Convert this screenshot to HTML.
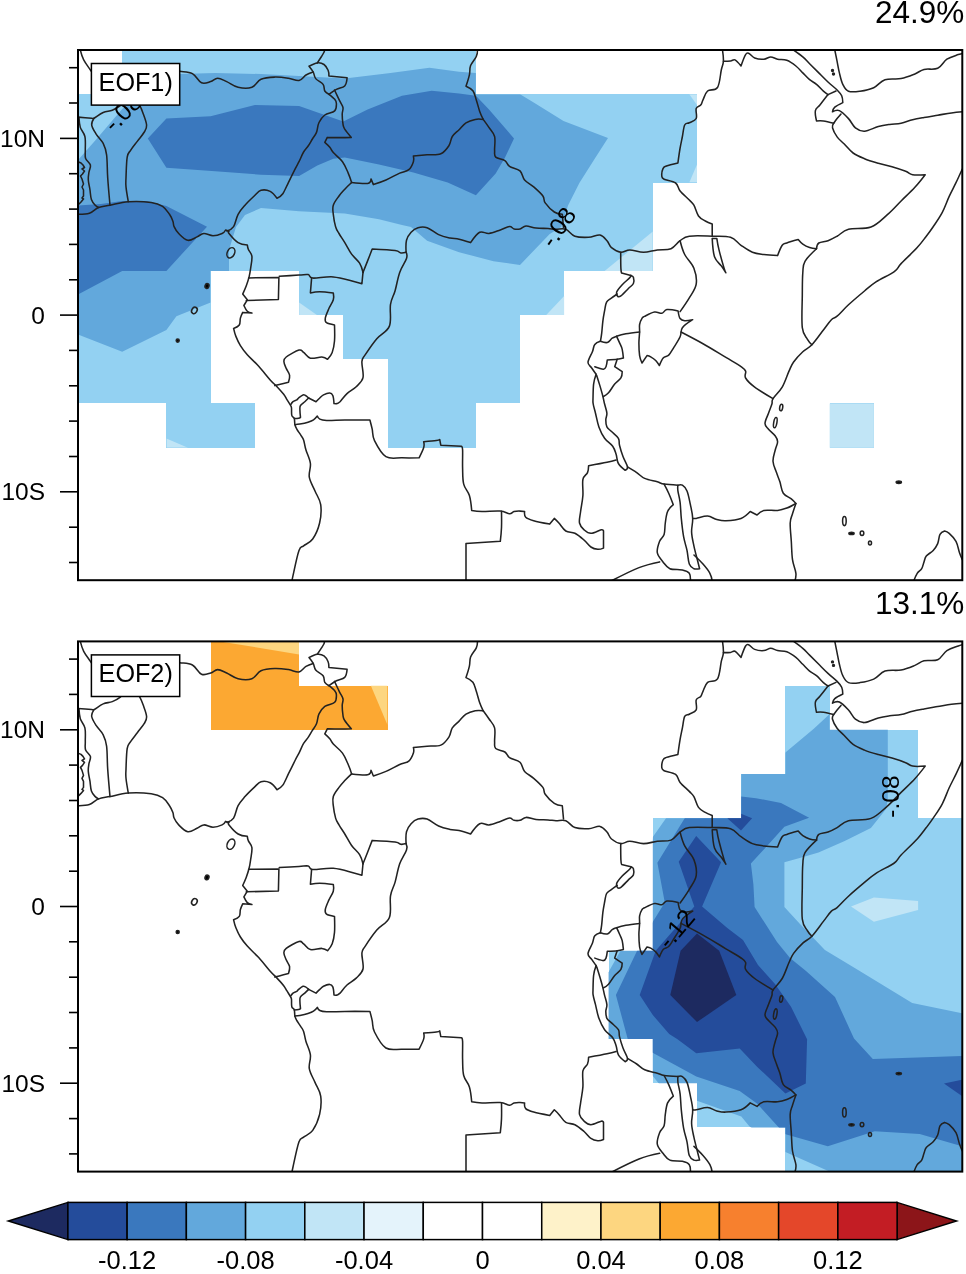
<!DOCTYPE html>
<html><head><meta charset="utf-8"><style>
html,body{margin:0;padding:0;background:#fff;}
svg{display:block;font-family:"Liberation Sans",sans-serif;will-change:transform;}
</style></head><body>
<svg width="966" height="1274" viewBox="0 0 966 1274">
<rect width="966" height="1274" fill="#fff"/>
<clipPath id="m1"><rect shape-rendering="crispEdges" x="122.22" y="50.00" width="353.72" height="44.18"/><rect shape-rendering="crispEdges" x="78.00" y="94.18" width="619.01" height="44.18"/><rect shape-rendering="crispEdges" x="78.00" y="138.37" width="619.01" height="44.18"/><rect shape-rendering="crispEdges" x="78.00" y="182.55" width="574.79" height="44.18"/><rect shape-rendering="crispEdges" x="78.00" y="226.73" width="574.79" height="44.18"/><rect shape-rendering="crispEdges" x="78.00" y="270.92" width="132.64" height="44.18"/><rect shape-rendering="crispEdges" x="299.07" y="270.92" width="265.29" height="44.18"/><rect shape-rendering="crispEdges" x="78.00" y="315.10" width="132.64" height="44.18"/><rect shape-rendering="crispEdges" x="343.29" y="315.10" width="176.86" height="44.18"/><rect shape-rendering="crispEdges" x="78.00" y="359.28" width="132.64" height="44.18"/><rect shape-rendering="crispEdges" x="387.50" y="359.28" width="132.64" height="44.18"/><rect shape-rendering="crispEdges" x="166.43" y="403.47" width="88.43" height="44.18"/><rect shape-rendering="crispEdges" x="387.50" y="403.47" width="88.43" height="44.18"/><rect shape-rendering="crispEdges" x="829.65" y="403.47" width="44.21" height="44.18"/></clipPath>
<clipPath id="f1"><rect x="78.0" y="50.0" width="884.3" height="530.2"/></clipPath>
<g fill="#93d1f2" shape-rendering="crispEdges"><rect x="122.22" y="50.00" width="353.72" height="44.18"/><rect x="78.00" y="94.18" width="619.01" height="44.18"/><rect x="78.00" y="138.37" width="619.01" height="44.18"/><rect x="78.00" y="182.55" width="574.79" height="44.18"/><rect x="78.00" y="226.73" width="574.79" height="44.18"/><rect x="78.00" y="270.92" width="132.64" height="44.18"/><rect x="299.07" y="270.92" width="265.29" height="44.18"/><rect x="78.00" y="315.10" width="132.64" height="44.18"/><rect x="343.29" y="315.10" width="176.86" height="44.18"/><rect x="78.00" y="359.28" width="132.64" height="44.18"/><rect x="387.50" y="359.28" width="132.64" height="44.18"/><rect x="166.43" y="403.47" width="88.43" height="44.18"/><rect x="387.50" y="403.47" width="88.43" height="44.18"/><rect x="829.65" y="403.47" width="44.21" height="44.18"/></g>
<g clip-path="url(#m1)">
<polygon fill="#c1e5f6" points="652.8,231.6 652.8,271.0 604.6,271.0"/>
<polygon fill="#c1e5f6" points="546.0,315.2 564.4,295.7 564.4,315.2"/>
<polygon fill="#c1e5f6" points="689.3,94.2 697.0,94.2 697.0,105.0"/>
<polygon fill="#c1e5f6" points="697.0,164.4 697.0,182.6 689.3,182.6"/>
<polygon fill="#c1e5f6" points="299.1,302.5 317.3,315.2 299.1,315.2"/>
<polygon fill="#c1e5f6" points="166.4,438.6 188.0,447.8 166.4,447.8"/>
<polygon fill="#c1e5f6" points="829.0,403.0 874.0,403.0 874.0,448.0 829.0,448.0"/>
<polygon fill="#62a8dc" points="78.0,160.0 97.0,138.4 122.2,109.0 140.0,94.2 166.4,79.0 179.8,74.0 215.3,72.9 261.0,74.0 299.0,76.0 344.8,78.6 390.5,72.9 429.4,67.8 459.0,71.7 475.9,72.9 475.9,94.2 520.0,94.2 533.7,102.6 563.5,121.0 608.0,138.0 595.5,157.5 579.5,182.7 568.0,205.6 561.2,227.0 549.7,233.9 520.0,265.0 493.5,261.3 459.1,252.2 427.1,240.7 411.0,227.0 402.0,225.0 379.0,219.3 344.8,213.6 299.0,211.3 261.0,208.0 245.0,215.0 236.0,227.0 229.0,250.0 229.0,271.0 210.6,271.0 210.6,302.5 176.4,316.2 166.4,330.0 122.2,351.7 78.0,334.5"/>
<polygon fill="#3a78be" points="147.8,138.4 166.4,118.6 210.6,116.3 254.9,105.0 299.1,106.0 321.9,114.0 343.3,121.5 367.6,109.5 402.0,95.8 431.7,90.7 459.0,93.5 475.9,95.8 489.0,109.5 514.0,138.4 505.0,157.5 495.7,173.5 475.9,195.3 447.7,182.5 413.4,172.4 379.0,164.4 344.8,157.5 333.3,158.7 317.3,165.5 299.1,176.0 261.0,174.7 215.3,171.3 166.4,167.8"/>
<polygon fill="#3a78be" points="78.0,205.5 100.9,204.0 122.2,201.0 146.6,201.0 166.4,206.0 207.0,226.7 166.4,270.9 122.2,270.9 78.0,294.5"/>
</g>
<g clip-path="url(#f1)" fill="none" stroke="#222" stroke-width="1.55" stroke-linejoin="round" stroke-linecap="round">
<path d="M80.3,50.0C80.3,50.0 81.9,56.4 83.7,59.9C85.5,63.4 88.4,67.0 90.6,70.2C92.8,73.4 96.0,78.0 96.0,78.0"/>
<path d="M170.0,70.0C170.0,70.0 175.9,70.7 179.8,71.3C183.7,71.9 188.6,71.6 192.4,73.6C196.2,75.6 198.3,81.4 201.5,82.8C204.7,84.2 207.9,82.4 210.7,81.6C213.5,80.8 214.8,78.2 217.6,78.2C220.4,78.2 223.1,80.0 226.7,81.6C230.3,83.2 233.7,86.3 238.1,87.3C242.5,88.3 247.9,88.7 251.9,87.3C255.9,85.9 257.0,81.1 261.0,79.3C265.0,77.5 270.0,77.3 274.8,77.1C279.6,76.9 284.3,77.6 288.5,78.2C292.7,78.8 295.9,81.1 299.0,80.5C302.1,79.9 303.5,76.5 306.0,75.0C308.5,73.5 313.2,72.0 313.2,72.0"/>
<path d="M317.3,62.9C317.3,62.9 320.3,58.4 321.5,56.5C322.7,54.6 323.5,53.4 324.0,52.3C324.5,51.2 324.4,50.0 324.4,50.0"/>
<path d="M78.0,117.1C78.0,117.1 88.9,118.0 91.7,118.2C94.5,118.4 92.0,119.2 94.0,118.2C96.0,117.2 100.0,113.9 103.2,112.5C106.4,111.1 109.3,111.4 112.3,110.2C115.3,109.0 118.1,107.5 120.3,105.7C122.5,103.9 125.0,100.0 125.0,100.0"/>
<path d="M135.0,100.0C135.0,100.0 138.4,103.3 139.8,105.7C141.2,108.1 142.0,110.3 143.2,113.7C144.4,117.1 146.4,121.9 146.6,125.1C146.8,128.3 145.9,129.2 144.3,132.0C142.7,134.8 139.9,137.9 137.5,141.1C135.1,144.3 132.4,147.5 130.6,150.3C128.8,153.1 128.0,152.3 127.2,157.1C126.4,161.9 126.2,172.5 126.0,177.7C125.8,182.9 125.6,182.7 126.0,186.9C126.4,191.1 128.3,201.7 128.3,201.7"/>
<path d="M94.0,118.2C94.0,118.2 91.3,122.3 91.7,125.1C92.1,127.9 94.3,131.1 96.3,134.3C98.3,137.5 101.4,139.8 103.2,143.4C105.0,147.0 105.8,148.8 106.6,154.8C107.4,160.8 107.1,168.9 107.7,177.7C108.3,186.5 110.0,205.2 110.0,205.2"/>
<path d="M79.0,117.5C79.0,117.5 79.3,124.1 80.3,127.4C81.3,130.7 84.0,132.5 84.9,136.5C85.8,140.5 85.2,146.2 85.3,150.0C85.4,153.8 84.7,155.9 85.6,158.5C86.5,161.1 89.8,162.6 90.4,165.0C91.0,167.4 89.4,169.4 89.0,172.0C88.6,174.6 88.1,176.8 88.3,180.0C88.5,183.2 89.5,186.6 90.0,190.0C90.5,193.4 90.5,196.9 91.4,199.5C92.3,202.1 93.7,203.6 95.0,205.0C96.3,206.4 98.6,207.5 98.6,207.5"/>
<path d="M78.0,214.3C78.0,214.3 85.8,214.4 89.4,213.2C93.0,212.0 95.0,208.9 98.6,207.5C102.2,206.1 104.8,206.2 110.0,205.2C115.2,204.2 121.1,202.2 128.3,201.7C135.5,201.2 145.2,201.6 151.2,202.4C157.2,203.2 159.4,204.2 162.6,206.3C165.8,208.4 167.7,211.7 169.5,214.3C171.3,216.9 172.1,219.0 172.9,221.2C173.7,223.4 173.1,224.4 174.1,226.6C175.1,228.8 176.3,231.1 178.7,233.5C181.1,235.9 184.6,239.7 187.8,240.3C191.0,240.9 194.2,238.1 197.0,236.9C199.8,235.7 201.0,233.7 203.8,233.5C206.6,233.3 209.8,235.8 213.0,235.8C216.2,235.8 219.9,234.5 222.1,233.5C224.3,232.5 225.6,230.0 225.6,230.0C225.6,230.0 229.0,231.2 229.0,231.2C229.0,231.2 227.4,231.5 229.0,233.5C230.6,235.5 234.9,240.6 238.1,242.6C241.3,244.6 247.3,244.9 247.3,244.9C247.3,244.9 247.6,247.5 248.4,249.5C249.2,251.5 251.5,253.1 251.9,256.3C252.3,259.5 251.2,264.2 250.7,267.8C250.2,271.4 249.9,273.7 249.1,276.9C248.3,280.1 247.3,283.1 246.2,286.1C245.1,289.1 242.7,294.1 242.7,294.1C242.7,294.1 247.3,299.8 247.3,299.8C247.3,299.8 243.9,305.5 243.9,305.5C243.9,305.5 245.9,309.9 247.3,311.2C248.7,312.5 251.9,313.1 251.9,313.1C251.9,313.1 242.7,312.4 242.7,312.4C242.7,312.4 241.0,315.9 240.4,318.1C239.8,320.3 240.5,323.2 239.3,325.0C238.1,326.8 233.6,328.4 233.6,328.4C233.6,328.4 234.7,333.4 235.9,336.4C237.1,339.4 238.4,342.4 240.4,345.6C242.4,348.8 244.1,351.1 247.3,354.7C250.5,358.3 254.7,361.8 258.7,366.2C262.7,370.6 267.0,376.3 270.2,379.9C273.4,383.5 274.6,384.2 277.0,386.7C279.4,389.2 282.0,392.1 283.7,394.3C285.4,396.5 285.6,397.3 286.8,399.3C288.0,401.3 289.8,404.0 290.6,405.5C291.4,407.0 291.3,406.3 291.5,408.0C291.7,409.7 291.3,413.6 291.8,415.4C292.3,417.2 293.8,416.9 294.3,418.5C294.8,420.1 294.5,422.8 294.9,424.7C295.3,426.6 295.8,427.4 296.8,429.1C297.8,430.9 299.3,432.8 300.5,434.7C301.7,436.6 302.7,437.4 303.6,440.0C304.5,442.6 304.7,445.7 305.9,449.8C307.1,453.9 309.8,458.7 310.4,463.5C311.0,468.3 308.5,472.4 309.3,477.2C310.1,482.0 313.0,486.2 315.0,491.0C317.0,495.8 319.9,499.1 320.7,504.7C321.5,510.3 321.0,517.0 319.6,523.0C318.2,529.0 315.5,535.0 312.7,539.0C309.9,543.0 306.0,543.8 303.6,545.8C301.2,547.8 300.9,545.2 299.0,550.4C297.1,555.6 294.2,570.2 293.0,575.6C291.8,581.0 292.0,581.0 292.0,581.0"/>
<path d="M309.0,66.2C309.0,66.2 314.7,63.2 317.3,62.9C319.9,62.6 322.1,63.2 324.0,64.5C325.9,65.8 327.2,68.3 328.1,70.3C329.0,72.3 328.9,76.1 328.9,76.1C328.9,76.1 347.1,77.8 347.1,77.8C347.1,77.8 346.6,84.0 344.7,86.0C342.8,88.0 339.2,87.9 336.4,89.4C333.6,90.9 328.9,94.3 328.9,94.3C328.9,94.3 325.8,92.7 324.8,91.0C323.8,89.3 324.7,86.6 323.1,84.4C321.5,82.2 317.4,80.8 315.7,78.6C314.0,76.4 314.4,74.2 313.2,72.0C312.0,69.8 309.0,66.2 309.0,66.2"/>
<path d="M328.9,94.3C328.9,94.3 333.4,97.7 334.7,99.3C336.0,100.9 336.4,101.4 336.4,103.4C336.4,105.4 336.7,108.9 334.7,110.9C332.7,112.9 327.5,113.0 324.8,115.0C322.1,117.0 320.5,119.5 319.0,122.5C317.5,125.5 317.7,129.5 316.5,132.4C315.3,135.3 313.8,136.7 312.4,139.0C311.0,141.3 310.0,143.2 308.5,145.5C307.0,147.8 305.3,149.2 303.6,152.0C301.9,154.8 300.5,158.8 299.0,161.7C297.5,164.6 297.1,165.0 295.3,168.6C293.5,172.2 290.7,177.9 288.5,182.3C286.3,186.7 284.8,190.9 282.8,193.7C280.8,196.5 277.0,198.3 277.0,198.3C277.0,198.3 273.0,192.8 270.2,191.4C267.4,190.0 263.8,189.5 261.0,190.3C258.2,191.1 257.0,193.4 254.2,196.0C251.4,198.6 247.8,202.0 245.0,205.2C242.2,208.4 240.1,210.5 238.1,214.3C236.1,218.1 235.5,223.8 233.6,226.7C231.7,229.6 227.0,231.0 227.0,231.0"/>
<path d="M334.5,90.0C334.5,90.0 338.2,97.8 339.7,100.9C341.2,104.0 342.6,105.3 343.0,107.6C343.4,109.9 342.2,111.3 342.2,114.2C342.2,117.1 342.6,121.5 343.0,124.1C343.4,126.7 343.2,126.8 344.7,129.1C346.2,131.4 351.3,137.4 351.3,137.4C351.3,137.4 344.2,137.6 340.0,137.6C335.8,137.6 327.3,137.4 327.3,137.4C327.3,137.4 324.8,142.4 324.8,142.4C324.8,142.4 328.3,145.5 329.8,147.3C331.3,149.1 331.1,150.1 333.3,152.6C335.5,155.1 339.9,158.1 342.5,161.7C345.1,165.3 346.6,169.5 348.2,173.1C349.8,176.7 351.6,182.5 351.6,182.5"/>
<path d="M351.6,182.5C351.6,182.5 347.0,186.8 344.8,189.2C342.6,191.6 341.0,193.2 339.0,196.0C337.0,198.8 334.3,202.0 333.3,205.2C332.3,208.4 332.9,210.5 333.3,214.3C333.7,218.1 334.6,223.3 335.6,226.7C336.6,230.1 337.4,230.7 339.0,233.5C340.6,236.3 342.6,239.0 344.8,242.6C347.0,246.2 349.0,250.5 351.6,254.1C354.2,257.7 357.6,260.0 359.6,263.2C361.6,266.4 363.0,272.4 363.0,272.4"/>
<path d="M351.6,182.5C351.6,182.5 364.2,184.0 367.6,183.4C371.0,182.8 371.0,178.9 371.0,178.9C371.0,178.9 373.4,184.6 373.4,184.6C373.4,184.6 381.4,182.0 386.0,180.0C390.6,178.0 395.7,174.9 399.7,173.1C403.7,171.3 406.4,171.7 408.8,169.7C411.2,167.7 412.6,164.1 413.4,161.7C414.2,159.3 413.4,156.0 413.4,156.0C413.4,156.0 422.3,155.2 427.1,154.8C431.9,154.4 437.0,155.3 440.8,153.7C444.6,152.1 446.9,148.7 448.9,145.7C450.9,142.7 450.5,139.3 452.3,136.5C454.1,133.7 456.7,132.1 459.1,129.7C461.5,127.3 463.2,124.6 466.0,122.8C468.8,121.0 472.2,120.0 475.2,119.4C478.2,118.8 483.2,119.4 483.2,119.4"/>
<path d="M477.5,50.0C477.5,50.0 477.5,53.8 476.3,56.5C475.1,59.2 471.8,62.4 470.6,65.6C469.4,68.8 470.2,71.2 469.4,74.8C468.6,78.4 466.0,86.2 466.0,86.2C466.0,86.2 471.1,88.4 472.9,90.8C474.7,93.2 475.1,96.3 476.3,99.9C477.5,103.5 478.5,108.0 479.7,111.4C480.9,114.8 483.2,119.4 483.2,119.4"/>
<path d="M483.2,119.4C483.2,119.4 486.9,124.4 488.9,127.4C490.9,130.4 493.6,132.5 494.6,136.5C495.6,140.5 494.4,146.7 494.6,150.3C494.8,153.9 493.9,155.3 495.7,157.1C497.5,158.9 502.5,159.0 504.9,160.6C507.3,162.2 506.9,164.5 509.5,166.3C512.1,168.1 517.4,168.5 520.0,170.9C522.6,173.3 522.2,177.2 524.6,180.0C527.0,182.8 530.5,184.1 533.7,186.9C536.9,189.7 540.9,193.2 542.9,196.0C544.9,198.8 543.2,200.1 545.2,202.9C547.2,205.7 551.3,210.0 554.3,212.0C557.3,214.0 562.3,214.3 562.3,214.3C562.3,214.3 563.5,227.5 563.5,227.5"/>
<path d="M406.1,252.2C406.1,252.2 405.6,243.8 406.5,240.3C407.4,236.8 409.1,234.5 411.1,232.3C413.1,230.1 415.2,228.5 418.0,227.7C420.8,226.9 423.5,226.5 427.1,227.7C430.7,228.9 434.6,232.8 438.6,234.6C442.6,236.4 446.4,237.2 450.0,238.0C453.6,238.8 455.5,238.4 459.1,239.2C462.7,240.0 470.6,242.6 470.6,242.6C470.6,242.6 476.5,233.9 479.7,232.3C482.9,230.7 485.3,233.9 488.9,233.5C492.5,233.1 496.7,231.2 500.3,230.0C503.9,228.8 507.1,226.8 509.5,226.6C511.9,226.4 512.2,228.5 514.0,228.9C515.8,229.3 517.9,229.4 520.0,228.9C522.1,228.4 523.2,226.2 526.0,226.0C528.8,225.8 532.1,227.6 536.0,228.0C539.9,228.4 544.5,228.3 548.0,228.5C551.5,228.7 552.9,229.2 556.0,229.3C559.1,229.4 562.5,228.1 565.8,229.3C569.1,230.5 570.9,234.8 574.9,236.2C578.9,237.6 584.2,237.5 588.6,237.3C593.0,237.1 596.8,234.4 600.0,235.0C603.2,235.6 605.0,238.5 607.0,240.7C609.0,242.9 609.1,245.6 611.5,247.6C613.9,249.6 617.5,251.8 620.7,252.2C623.9,252.6 625.8,249.9 629.8,249.9C633.8,249.9 638.7,252.2 643.5,252.2C648.3,252.2 652.5,250.5 657.3,249.9C662.1,249.3 667.0,250.3 671.0,248.7C675.0,247.1 676.9,242.9 680.1,240.7C683.3,238.5 683.7,237.0 689.3,236.2C694.9,235.4 705.0,236.0 712.2,236.2C719.4,236.4 725.5,235.7 730.5,237.3C735.5,238.9 737.2,242.7 741.0,245.3C744.8,247.9 748.4,250.6 752.4,252.2C756.4,253.8 759.5,253.9 763.9,254.5C768.3,255.1 777.6,255.6 777.6,255.6C777.6,255.6 780.6,247.5 782.2,245.3C783.8,243.1 784.0,244.0 786.8,243.0C789.6,242.0 798.2,239.6 798.2,239.6C798.2,239.6 800.8,242.8 802.8,244.2C804.8,245.6 807.2,246.8 809.6,247.6C812.0,248.4 816.5,248.7 816.5,248.7"/>
<path d="M363.0,272.4C363.0,272.4 366.0,265.0 367.6,260.9C369.2,256.8 372.2,249.0 372.2,249.0C372.2,249.0 390.1,249.9 395.1,250.6C400.1,251.3 398.9,252.6 400.8,252.9C402.7,253.2 406.1,252.2 406.1,252.2"/>
<path d="M406.1,252.2C406.1,252.2 407.6,255.1 406.5,258.6C405.4,262.1 401.7,266.8 399.7,272.4C397.7,278.0 396.7,285.1 395.1,290.7C393.5,296.3 391.5,298.2 390.5,304.4C389.5,310.6 391.8,320.1 389.4,326.1C387.0,332.1 381.0,333.7 376.8,338.7C372.6,343.7 367.9,350.7 365.3,354.7C362.7,358.7 362.3,357.6 361.9,361.6C361.5,365.6 364.0,373.2 363.0,377.6C362.0,382.0 359.0,383.9 356.2,386.7C353.4,389.5 349.8,391.0 347.0,393.6C344.2,396.2 341.7,399.9 340.0,401.7C338.3,403.4 338.2,403.3 337.1,403.6C336.1,403.9 334.0,403.6 334.0,403.6C334.0,403.6 333.6,397.4 332.8,395.5C332.0,393.6 331.3,393.1 329.7,393.0C328.1,392.9 325.2,394.0 323.5,394.9C321.8,395.8 321.1,396.8 319.8,398.0C318.5,399.2 316.0,401.7 316.0,401.7C316.0,401.7 308.6,398.0 308.6,398.0"/>
<path d="M363.0,272.4C363.0,272.4 361.9,283.8 361.9,283.8C361.9,283.8 358.9,282.7 353.9,281.5C348.9,280.3 340.5,277.5 333.3,276.9C326.1,276.3 317.1,278.5 312.7,278.1C308.3,277.7 310.6,275.1 308.2,274.6C305.8,274.1 304.1,274.8 299.0,275.1C293.9,275.4 279.3,276.2 279.3,276.2"/>
<path d="M248.6,277.9C248.6,277.9 278.9,277.5 278.9,277.5C278.9,277.5 278.4,299.6 278.4,299.6C278.4,299.6 246.3,300.4 246.3,300.4"/>
<path d="M311.6,278.1C311.6,278.1 310.4,292.9 310.4,292.9C310.4,292.9 315.6,291.8 319.6,291.8C323.6,291.8 333.3,293.0 333.3,293.0C333.3,293.0 334.1,297.0 333.3,299.8C332.5,302.6 330.1,305.8 328.7,309.0C327.3,312.2 325.7,315.7 325.3,318.1C324.9,320.5 324.9,321.5 326.5,322.7C328.1,323.9 334.5,325.0 334.5,325.0C334.5,325.0 334.9,336.2 334.5,341.0C334.1,345.8 333.4,349.2 332.2,352.4C331.0,355.6 327.6,359.3 327.6,359.3C327.6,359.3 324.9,357.2 321.9,357.0C318.9,356.8 313.6,359.0 310.4,358.2C307.2,357.4 305.6,353.8 303.6,352.4C301.6,351.0 302.0,349.3 299.0,350.1C296.0,350.9 288.8,355.0 286.2,357.0C283.6,359.0 283.9,359.6 283.9,361.6C283.9,363.6 285.2,366.0 286.2,368.4C287.2,370.8 289.2,372.9 289.6,375.3C290.0,377.7 288.5,382.2 288.5,382.2C288.5,382.2 281.7,383.9 279.3,384.5C276.9,385.1 274.8,385.6 274.8,385.6"/>
<path d="M290.6,404.8C290.6,404.8 291.9,402.6 293.0,401.7C294.1,400.8 295.8,400.5 296.8,399.9C297.8,399.3 297.5,398.9 298.6,398.0C299.7,397.1 301.8,395.3 303.0,394.9C304.2,394.5 304.5,395.0 305.5,395.5C306.5,396.0 308.6,398.0 308.6,398.0"/>
<path d="M308.6,398.0C308.6,398.0 306.2,400.4 304.8,401.7C303.4,403.0 301.4,404.1 300.5,405.5C299.6,406.9 299.9,407.7 299.9,409.8C299.9,411.9 300.5,417.3 300.5,417.3C300.5,417.3 299.7,418.0 298.6,418.2C297.5,418.4 294.3,418.5 294.3,418.5"/>
<path d="M294.9,424.7C294.9,424.7 297.6,424.5 299.9,424.1C302.2,423.7 305.6,423.0 308.0,422.2C310.4,421.4 311.9,420.9 313.5,419.8C315.1,418.7 317.3,416.0 317.3,416.0C317.3,416.0 318.2,418.3 319.8,419.1C321.4,419.9 322.2,420.2 326.6,420.4C331.0,420.6 337.2,420.1 344.8,420.0C352.4,419.9 369.9,420.0 369.9,420.0C369.9,420.0 371.4,425.6 372.2,429.2C373.0,432.8 372.1,435.8 374.5,440.6C376.9,445.4 381.1,453.6 385.9,456.6C390.7,459.6 396.2,457.6 402.0,457.8C407.8,458.0 419.1,457.8 419.1,457.8C419.1,457.8 422.9,450.3 423.7,447.5C424.5,444.7 423.7,441.7 423.7,441.7C423.7,441.7 433.5,441.0 436.3,440.6C439.1,440.2 439.7,439.5 439.7,439.5C439.7,439.5 440.8,445.2 440.8,445.2C440.8,445.2 461.4,446.3 461.4,446.3C461.4,446.3 462.4,446.0 462.6,449.8C462.8,453.6 462.4,462.1 462.6,468.1C462.8,474.1 462.5,479.3 463.7,484.1C464.9,488.9 468.0,490.9 469.4,495.5C470.8,500.1 471.7,510.4 471.7,510.4C471.7,510.4 477.0,511.4 482.0,511.5C487.0,511.6 495.5,510.7 500.3,511.1C505.1,511.5 507.1,513.7 509.5,513.8C511.9,513.9 512.2,512.0 514.0,511.5C515.8,511.0 518.1,511.1 520.0,511.1C521.9,511.1 524.6,511.5 524.6,511.5C524.6,511.5 524.1,515.6 525.7,517.2C527.3,518.8 529.5,519.5 533.7,520.7C537.9,521.9 549.7,524.1 549.7,524.1C549.7,524.1 554.3,518.4 554.3,518.4C554.3,518.4 556.9,520.8 558.9,523.0C560.9,525.2 563.0,529.2 565.8,531.0C568.6,532.8 571.7,531.7 574.9,533.3C578.1,534.9 581.3,537.7 584.1,540.1C586.9,542.5 588.5,545.4 590.9,547.0C593.3,548.6 595.6,549.1 597.8,549.3C600.0,549.5 603.5,548.1 603.5,548.1C603.5,548.1 603.5,531.0 603.5,531.0C603.5,531.0 603.4,529.4 601.2,529.8C599.0,530.2 593.9,533.3 590.9,533.3C587.9,533.3 586.1,531.6 584.1,529.8C582.1,528.0 580.1,526.2 579.5,523.0C578.9,519.8 580.0,516.3 580.6,511.5C581.2,506.7 582.5,501.1 582.9,495.5C583.3,489.9 582.1,483.5 582.9,479.5C583.7,475.5 586.5,475.0 587.5,472.6C588.5,470.2 588.6,465.8 588.6,465.8C588.6,465.8 602.2,463.3 607.0,462.3C611.8,461.3 616.1,460.0 616.1,460.0"/>
<path d="M501.5,511.3C501.5,511.3 501.7,522.2 501.5,527.5C501.3,532.8 500.3,541.3 500.3,541.3C500.3,541.3 466.0,543.6 466.0,543.6C466.0,543.6 466.0,581.0 466.0,581.0"/>
<path d="M722.5,50.0C722.5,50.0 723.6,57.7 723.4,61.2C723.2,64.7 722.3,65.4 721.3,70.0C720.3,74.6 719.9,83.8 717.5,87.5C715.1,91.2 710.1,88.8 707.6,91.0C705.1,93.2 704.2,97.5 703.0,99.9C701.8,102.4 701.9,103.5 700.7,105.0C699.5,106.5 697.0,106.1 696.2,108.5C695.4,110.9 697.4,116.0 696.2,118.5C695.0,121.0 691.3,121.7 689.3,122.8C687.3,123.9 685.9,122.6 684.7,125.0C683.5,127.4 683.2,132.5 682.4,136.5C681.6,140.5 680.9,143.4 680.1,148.0C679.3,152.6 677.9,163.0 677.9,163.0C677.9,163.0 669.0,165.0 666.4,166.0C663.8,167.0 663.8,166.8 663.0,168.6C662.2,170.3 661.6,174.1 661.8,176.0C662.0,177.9 661.7,178.1 664.1,179.3C666.5,180.5 672.8,181.0 675.6,183.0C678.4,185.0 677.7,188.0 680.1,191.0C682.5,194.0 686.9,197.5 689.3,200.0C691.7,202.5 692.3,202.4 693.9,205.2C695.5,208.0 696.5,213.2 698.5,216.0C700.5,218.8 702.9,219.6 705.3,221.0C707.7,222.4 712.2,224.0 712.2,224.0C712.2,224.0 712.2,236.2 712.2,236.2"/>
<path d="M723.4,61.2C723.4,61.2 728.5,61.2 730.5,61.0C732.5,60.8 733.2,59.0 735.0,59.9C736.8,60.8 741.0,66.0 741.0,66.0C741.0,66.0 744.2,56.8 745.6,54.6C747.0,52.4 747.4,52.9 749.0,53.5C750.6,54.1 752.1,57.0 754.7,58.0C757.3,59.0 761.1,59.4 763.9,59.2C766.7,59.0 768.3,56.9 770.7,56.9C773.1,56.9 774.8,58.6 777.6,59.2C780.4,59.8 783.6,59.1 786.8,60.3C790.0,61.5 793.1,63.8 795.9,66.0C798.7,68.2 800.4,70.5 802.8,72.9C805.2,75.3 807.2,77.7 809.6,79.7C812.0,81.7 814.1,82.3 816.5,84.3C818.9,86.3 821.4,89.4 823.4,91.2C825.4,93.0 828.0,94.6 828.0,94.6"/>
<path d="M793.6,50.0C793.6,50.0 800.0,54.5 802.8,56.9C805.6,59.3 806.8,60.9 809.6,63.7C812.4,66.5 815.6,69.7 818.8,72.9C822.0,76.1 824.8,79.0 828.0,82.0C831.2,85.0 834.7,87.6 837.1,90.0C839.5,92.4 840.7,93.6 841.7,95.8C842.7,98.0 842.8,102.6 842.8,102.6C842.8,102.6 836.6,105.6 834.8,107.2C833.0,108.8 832.5,111.8 832.5,111.8C832.5,111.8 836.6,109.4 839.4,110.6C842.2,111.8 845.7,115.6 848.5,118.6C851.3,121.6 852.6,125.6 855.4,127.8C858.2,130.0 860.5,131.4 864.5,131.2C868.5,131.0 873.9,127.8 878.3,126.6C882.7,125.4 885.7,125.0 889.7,124.4C893.7,123.8 897.1,124.0 901.1,123.2C905.1,122.4 908.6,120.8 912.6,119.8C916.6,118.8 919.6,118.3 924.0,117.5C928.4,116.7 932.9,116.0 937.7,115.2C942.5,114.4 947.2,113.5 951.5,112.9C955.8,112.3 962.3,111.8 962.3,111.8"/>
<path d="M828.0,94.6 L836.0,91.0"/>
<path d="M828.0,94.6C828.0,94.6 822.1,102.1 819.9,104.9C817.7,107.7 816.0,107.8 815.4,110.6C814.8,113.4 816.5,120.9 816.5,120.9C816.5,120.9 820.4,120.5 823.4,120.9C826.4,121.3 833.7,123.2 833.7,123.2C833.7,123.2 835.8,120.2 837.1,118.6C838.4,117.0 841.0,114.0 841.0,114.0"/>
<path d="M833.7,123.2C833.7,123.2 831.9,125.4 832.5,127.8C833.1,130.2 835.1,134.1 837.1,136.9C839.1,139.7 841.2,141.0 844.0,143.8C846.8,146.6 849.5,150.4 853.1,153.0C856.7,155.6 860.1,156.9 864.5,158.7C868.9,160.5 873.5,161.8 878.3,163.2C883.1,164.6 887.2,165.3 892.0,166.7C896.8,168.1 902.1,169.9 905.7,171.3C909.3,172.7 909.2,174.1 912.6,174.7C916.0,175.3 925.2,174.7 925.2,174.7C925.2,174.7 919.1,182.7 914.9,187.3C910.7,191.9 905.9,196.2 901.1,201.0C896.3,205.8 892.7,210.1 887.4,214.7C882.1,219.2 877.8,224.4 871.0,227.0C864.2,229.6 854.4,227.7 848.5,229.3C842.6,230.9 840.7,234.2 837.1,236.2C833.5,238.2 831.2,239.5 828.0,240.7C824.8,241.9 820.8,241.6 818.8,243.0C816.8,244.4 816.5,248.7 816.5,248.7"/>
<path d="M834.8,50.0C834.8,50.0 836.3,57.4 837.1,61.4C837.9,65.4 838.4,68.9 839.4,72.9C840.4,76.9 841.2,81.1 842.8,84.3C844.4,87.5 845.5,90.0 848.5,91.2C851.5,92.4 855.6,91.8 860.0,91.2C864.4,90.6 869.3,89.7 873.7,87.7C878.1,85.7 880.2,81.3 885.0,79.7C889.8,78.1 895.9,79.6 901.1,78.6C906.3,77.6 910.9,75.6 914.9,74.0C918.9,72.4 920.0,70.4 924.0,69.4C928.0,68.4 933.7,70.1 937.7,68.3C941.7,66.5 943.3,61.6 946.9,59.2C950.5,56.8 955.6,55.6 958.3,54.6C961.0,53.6 962.3,53.4 962.3,53.4"/>
<path d="M962.3,169.0C962.3,169.0 958.3,177.9 956.0,182.7C953.7,187.5 951.6,191.2 949.2,196.4C946.8,201.6 945.1,207.0 942.3,212.4C939.5,217.8 935.8,222.8 933.0,227.0C930.2,231.2 929.1,232.6 926.3,236.2C923.5,239.8 921.6,242.8 917.2,247.6C912.8,252.4 905.1,259.4 901.1,263.6C897.1,267.8 898.7,268.4 894.3,271.6C889.9,274.8 881.2,278.5 876.0,281.9C870.8,285.3 869.3,287.0 864.5,291.0C859.7,295.0 853.3,300.4 848.5,304.8C843.7,309.2 840.1,313.6 837.1,316.2C834.1,318.8 833.8,317.3 831.4,319.7C829.0,322.1 826.8,325.6 823.4,330.0C820.0,334.4 815.5,341.0 811.9,344.8C808.3,348.6 806.0,348.7 802.8,351.7C799.6,354.7 796.0,358.6 793.6,362.0C791.2,365.4 791.0,366.7 789.0,371.1C787.0,375.5 785.0,382.3 782.2,387.1C779.4,391.9 774.8,395.6 773.0,398.6C771.2,401.6 772.7,401.4 771.9,404.0C771.1,406.6 769.7,409.8 768.5,413.2C767.3,416.6 765.0,420.6 765.0,423.4C765.0,426.2 766.7,427.0 768.5,429.2C770.3,431.4 773.7,433.8 775.3,436.0C776.9,438.2 777.6,439.3 777.6,441.7C777.6,444.1 776.1,446.4 775.3,449.8C774.5,453.2 772.8,457.2 773.0,461.2C773.2,465.2 775.3,469.0 776.5,472.6C777.7,476.2 778.7,478.2 779.9,481.8C781.1,485.4 781.3,490.2 783.3,493.2C785.3,496.2 789.1,497.1 791.3,498.9C793.5,500.7 795.9,503.5 795.9,503.5C795.9,503.5 793.5,510.4 792.5,513.8C791.5,517.2 790.4,518.2 790.2,523.0C790.0,527.8 790.9,534.9 791.3,541.3C791.7,547.7 791.7,554.0 792.5,559.6C793.3,565.2 795.5,569.6 795.9,573.3C796.3,577.0 794.8,581.0 794.8,581.0"/>
<path d="M816.5,248.7C816.5,248.7 807.4,257.1 805.0,261.3C802.6,265.5 803.3,266.8 802.8,272.8C802.3,278.8 802.4,286.0 802.3,295.6C802.2,305.2 801.4,320.1 802.3,327.7C803.2,335.3 805.6,336.1 807.3,339.1C809.0,342.1 811.9,344.8 811.9,344.8"/>
<path d="M681.0,332.0C681.0,332.0 695.1,339.3 703.0,343.7C710.9,348.1 719.2,353.4 725.9,357.4C732.5,361.4 737.6,364.2 741.0,366.6C744.4,369.0 744.8,369.1 745.6,371.1C746.4,373.1 744.0,375.2 745.6,378.0C747.2,380.8 749.9,383.5 754.7,387.1C759.5,390.7 773.0,398.6 773.0,398.6"/>
<path d="M680.1,240.7C680.1,240.7 682.3,249.7 684.7,254.5C687.1,259.3 691.9,263.0 693.9,268.2C695.9,273.4 697.0,279.0 696.2,284.2C695.4,289.4 692.1,293.1 689.3,297.9C686.5,302.7 680.1,311.6 680.1,311.6"/>
<path d="M712.2,238.4C712.2,238.4 712.9,251.9 714.5,256.7C716.1,261.5 719.3,263.1 721.3,265.9C723.3,268.7 725.9,272.8 725.9,272.8C725.9,272.8 725.2,272.0 724.0,268.0C722.8,264.0 720.3,255.1 719.0,249.9C717.7,244.7 716.8,238.4 716.8,238.4C716.8,238.4 712.2,238.4 712.2,238.4"/>
<path d="M639.6,332.0C639.7,328.7 639.2,326.9 639.6,324.5C640.0,322.1 641.1,319.7 642.0,318.3C642.9,316.9 642.3,317.5 644.5,316.4C646.7,315.3 651.5,312.6 654.5,312.1C657.5,311.6 659.7,313.7 661.9,313.3C664.1,312.9 664.1,310.0 666.9,309.6C669.7,309.2 678.1,311.0 678.1,311.0C678.1,311.0 678.9,316.8 680.1,318.5C681.3,320.2 682.5,320.6 684.7,320.8C686.9,321.0 692.7,319.7 692.7,319.7C692.7,319.7 684.6,324.7 682.4,327.7C680.2,330.7 681.7,333.2 680.1,336.8C678.5,340.4 675.3,345.1 673.3,348.3C671.3,351.5 670.5,353.4 668.7,355.1C666.9,356.8 664.8,356.2 663.2,358.0C661.6,359.8 659.4,365.5 659.4,365.5C659.4,365.5 657.2,362.0 655.7,360.5C654.2,359.0 652.2,357.7 650.7,356.8C649.2,355.9 647.0,355.6 647.0,355.6C647.0,355.6 642.0,363.0 642.0,363.0C642.0,363.0 640.1,359.1 639.6,355.6C639.1,352.1 638.9,347.2 638.9,343.1C638.9,339.0 639.5,335.3 639.6,332.0"/>
<path d="M620.7,252.2C620.7,252.2 620.7,265.0 620.9,268.6C621.1,272.2 621.6,273.0 621.6,273.0C621.6,273.0 630.9,275.4 630.9,275.4"/>
<path d="M630.9,275.4C630.9,275.4 633.0,275.9 633.4,277.3C633.8,278.7 634.3,281.5 633.4,283.5C632.5,285.5 630.6,286.3 628.4,288.5C626.2,290.7 622.8,294.5 620.9,295.9C619.0,297.3 617.8,296.5 617.8,296.5C617.8,296.5 615.8,294.3 616.6,292.2C617.4,290.1 619.9,287.2 622.2,284.7C624.5,282.2 628.1,279.5 629.6,277.9C631.1,276.3 630.9,275.4 630.9,275.4"/>
<path d="M617.2,294.0C617.2,294.0 612.9,297.0 611.0,298.4C609.1,299.8 607.7,300.1 606.6,302.1C605.5,304.1 605.4,306.3 604.8,309.6C604.2,312.9 603.4,316.7 602.9,320.8C602.4,324.9 602.1,329.6 601.7,333.2C601.3,336.8 600.4,341.3 600.4,341.3"/>
<path d="M600.4,341.3C600.4,341.3 596.2,342.6 594.8,344.4C593.4,346.2 593.6,348.7 592.4,351.8C591.2,354.9 588.1,359.6 588.0,362.4C587.9,365.2 590.3,365.9 591.7,368.0C593.1,370.1 596.1,374.2 596.1,374.2"/>
<path d="M600.4,341.3C600.4,341.3 605.2,343.0 607.3,342.5C609.4,342.0 610.6,339.3 612.2,338.2C613.8,337.1 614.2,337.1 616.6,336.3C619.0,335.5 621.9,334.6 625.9,333.8C629.9,333.0 639.6,332.0 639.6,332.0"/>
<path d="M616.6,336.3C616.6,336.3 618.7,340.8 619.7,343.1C620.7,345.4 621.6,346.7 622.2,349.3C622.8,351.9 623.4,358.0 623.4,358.0C623.4,358.0 620.0,359.0 617.2,359.3C614.4,359.6 607.3,359.9 607.3,359.9C607.3,359.9 606.7,365.1 606.0,366.7C605.3,368.3 604.8,369.0 603.5,369.2C602.2,369.4 600.1,368.4 598.6,368.0C597.1,367.6 594.8,366.7 594.8,366.7"/>
<path d="M617.2,359.3C617.2,359.3 614.7,366.7 614.7,366.7C614.7,366.7 622.2,371.7 622.2,371.7C622.2,371.7 622.2,375.7 620.9,377.9C619.6,380.1 616.9,381.5 614.7,384.1C612.5,386.7 610.5,390.6 608.5,392.8C606.5,395.0 603.5,396.5 603.5,396.5"/>
<path d="M596.1,374.2C596.1,374.2 594.1,379.8 593.6,384.1C593.1,388.4 593.1,395.5 593.0,399.0C592.9,402.5 592.8,401.5 593.2,404.0C593.6,406.5 594.5,409.2 595.5,413.2C596.5,417.2 597.3,422.5 598.9,426.9C600.5,431.3 602.2,434.9 604.6,438.3C607.0,441.7 610.7,443.5 612.7,446.3C614.7,449.1 615.1,451.3 616.1,454.3C617.1,457.3 616.8,460.7 618.4,463.5C620.0,466.3 625.2,470.3 625.2,470.3C625.2,470.3 627.9,469.3 627.5,466.9C627.1,464.5 624.4,460.4 623.0,456.6C621.6,452.8 620.3,448.4 619.5,445.2C618.7,442.0 619.8,440.7 618.4,438.3C617.0,435.9 613.5,433.5 611.5,431.5C609.5,429.5 607.9,428.9 606.9,426.9C605.9,424.9 605.8,422.4 605.8,420.0C605.8,417.6 607.1,416.0 606.9,413.2C606.7,410.4 605.3,406.9 604.6,404.0C603.9,401.1 603.7,399.8 602.9,396.5C602.1,393.2 600.9,389.1 599.8,385.4C598.7,381.7 596.7,375.4 596.7,375.4"/>
<path d="M627.5,466.9C627.5,466.9 633.7,470.6 636.7,472.6C639.7,474.6 641.1,476.8 644.7,478.4C648.3,480.0 653.9,480.8 657.3,481.8C660.7,482.8 660.5,483.5 664.1,484.1C667.7,484.7 677.9,485.2 677.9,485.2"/>
<path d="M664.1,484.1C664.1,484.1 667.1,489.6 668.7,493.2C670.3,496.8 673.3,504.7 673.3,504.7C673.3,504.7 669.0,508.3 667.6,511.5C666.2,514.7 665.9,519.0 665.3,523.0C664.7,527.0 665.1,531.2 664.1,534.4C663.1,537.6 660.8,538.1 659.6,541.3C658.4,544.5 656.7,549.1 657.3,552.7C657.9,556.3 660.8,559.1 663.0,561.9C665.2,564.7 666.5,567.3 669.9,568.7C673.3,570.1 679.0,569.1 682.4,569.9C685.8,570.7 687.9,571.4 689.3,573.3C690.7,575.2 690.4,581.0 690.4,581.0"/>
<path d="M659.6,561.9C659.6,561.9 647.4,564.3 639.0,567.6C630.6,570.9 611.5,580.8 611.5,580.8"/>
<path d="M677.9,485.2C677.9,485.2 680.8,484.2 682.4,485.2C684.0,486.2 685.6,487.6 687.0,491.0C688.4,494.4 689.4,499.9 690.4,504.7C691.4,509.5 692.5,513.6 692.7,518.4C692.9,523.2 691.4,527.3 691.6,532.1C691.8,536.9 692.9,541.0 693.9,545.8C694.9,550.6 696.3,555.6 697.3,559.6C698.3,563.6 699.6,568.7 699.6,568.7C699.6,568.7 695.7,569.5 693.9,568.7C692.1,567.9 690.5,567.3 689.3,564.1C688.1,560.9 688.0,555.2 687.0,550.4C686.0,545.6 684.6,542.3 683.6,536.7C682.6,531.1 681.9,524.4 681.3,518.4C680.7,512.4 680.7,507.2 680.1,502.4C679.5,497.6 678.3,493.9 677.9,490.9C677.5,487.9 677.9,485.2 677.9,485.2"/>
<path d="M692.7,518.4C692.7,518.4 693.6,518.8 696.2,518.4C698.8,518.0 704.0,515.9 707.6,516.1C711.2,516.3 713.6,518.7 716.8,519.5C720.0,520.3 721.7,520.9 725.9,520.7C730.1,520.5 736.7,520.0 741.0,518.4C745.3,516.8 750.2,511.5 750.2,511.5C750.2,511.5 757.0,515.0 757.0,515.0C757.0,515.0 760.3,511.2 763.9,510.4C767.5,509.6 773.6,510.8 777.6,510.4C781.6,510.0 783.6,509.3 786.8,508.1C790.0,506.9 795.9,503.5 795.9,503.5"/>
<path d="M694.0,555.0C694.0,555.0 700.2,560.9 703.0,564.1C705.8,567.3 708.3,570.3 709.9,573.3C711.5,576.3 712.2,581.0 712.2,581.0"/>
<path d="M913.7,581.0C913.7,581.0 915.8,575.5 917.2,573.3C918.6,571.1 920.5,570.7 921.7,568.7C922.9,566.7 923.2,564.1 924.0,561.9C924.8,559.7 924.7,558.1 926.3,556.1C927.9,554.1 931.2,552.6 933.2,550.4C935.2,548.2 936.5,546.4 937.7,543.6C938.9,540.8 938.8,536.6 940.0,534.4C941.2,532.2 944.6,531.0 944.6,531.0C944.6,531.0 947.2,531.5 949.2,533.3C951.2,535.1 954.2,537.9 956.0,541.3C957.8,544.7 958.4,549.5 959.5,552.7C960.6,555.9 962.3,559.6 962.3,559.6"/>
<ellipse cx="230.9" cy="252.8" rx="3.6" ry="5.4" transform="rotate(25 230.9 252.8)"/>
<ellipse cx="207" cy="286.0" rx="1.9" ry="2.4" transform="rotate(20 207 286.0)" fill="#000"/>
<ellipse cx="194.4" cy="310.4" rx="2.6" ry="3.4" transform="rotate(30 194.4 310.4)"/>
<ellipse cx="177.7" cy="340.6" rx="1.5" ry="1.5" transform="rotate(0 177.7 340.6)" fill="#000"/>
<ellipse cx="775.3" cy="422.6" rx="1.6" ry="5.2" transform="rotate(10 775.3 422.6)"/>
<ellipse cx="781.2" cy="407.5" rx="1.5" ry="3.3" transform="rotate(10 781.2 407.5)"/>
<ellipse cx="844.4" cy="521.0" rx="1.8" ry="4.6" transform="rotate(0 844.4 521.0)"/>
<ellipse cx="851.5" cy="533.4" rx="2.6" ry="1.1" transform="rotate(0 851.5 533.4)" fill="#000"/>
<ellipse cx="862" cy="533.2" rx="1.8" ry="2.2" transform="rotate(0 862 533.2)"/>
<ellipse cx="870" cy="543.0" rx="1.5" ry="2.0" transform="rotate(0 870 543.0)"/>
<ellipse cx="898.8" cy="482.2" rx="2.6" ry="1.2" transform="rotate(0 898.8 482.2)" fill="#000"/>
<ellipse cx="832.5" cy="70.5" rx="0.9" ry="0.9" transform="rotate(0 832.5 70.5)" fill="#000"/>
<ellipse cx="833.5" cy="74.0" rx="0.9" ry="0.9" transform="rotate(0 833.5 74.0)" fill="#000"/>
<polyline points="78.6,162.0 81.0,163.0 83.0,165.0 84.5,167.5 82.0,169.0 84.5,171.0 82.5,174.0 80.5,176.0 82.0,179.0 83.5,184.0 82.0,187.0 83.5,190.0 83.5,196.0 82.0,198.0 83.5,199.0 81.0,202.0 79.0,204.0 78.6,204.0"/>
</g>
<g font-size="24.5" fill="#000"><text transform="translate(113.7,133.2) rotate(-45)">-.08</text><text transform="translate(553,249.3) rotate(-55)">-.08</text></g>
<rect x="78.0" y="50.0" width="884.3" height="530.2" fill="none" stroke="#000" stroke-width="2"/>
<line x1="69.0" y1="562.5" x2="78.0" y2="562.5" stroke="#000" stroke-width="1.6"/>
<line x1="69.0" y1="527.2" x2="78.0" y2="527.2" stroke="#000" stroke-width="1.6"/>
<line x1="60.0" y1="491.8" x2="78.0" y2="491.8" stroke="#000" stroke-width="1.6"/>
<line x1="69.0" y1="456.5" x2="78.0" y2="456.5" stroke="#000" stroke-width="1.6"/>
<line x1="69.0" y1="421.1" x2="78.0" y2="421.1" stroke="#000" stroke-width="1.6"/>
<line x1="69.0" y1="385.8" x2="78.0" y2="385.8" stroke="#000" stroke-width="1.6"/>
<line x1="69.0" y1="350.4" x2="78.0" y2="350.4" stroke="#000" stroke-width="1.6"/>
<line x1="60.0" y1="315.1" x2="78.0" y2="315.1" stroke="#000" stroke-width="1.6"/>
<line x1="69.0" y1="279.8" x2="78.0" y2="279.8" stroke="#000" stroke-width="1.6"/>
<line x1="69.0" y1="244.4" x2="78.0" y2="244.4" stroke="#000" stroke-width="1.6"/>
<line x1="69.0" y1="209.1" x2="78.0" y2="209.1" stroke="#000" stroke-width="1.6"/>
<line x1="69.0" y1="173.7" x2="78.0" y2="173.7" stroke="#000" stroke-width="1.6"/>
<line x1="60.0" y1="138.4" x2="78.0" y2="138.4" stroke="#000" stroke-width="1.6"/>
<line x1="69.0" y1="103.0" x2="78.0" y2="103.0" stroke="#000" stroke-width="1.6"/>
<line x1="69.0" y1="67.7" x2="78.0" y2="67.7" stroke="#000" stroke-width="1.6"/>
<text x="45" y="147.0" text-anchor="end" font-size="24.5">10N</text>
<text x="45" y="323.7" text-anchor="end" font-size="24.5">0</text>
<text x="45" y="500.4" text-anchor="end" font-size="24.5">10S</text>
<rect x="91.4" y="63.5" width="88.3" height="41.6" fill="#fff" stroke="#000" stroke-width="1.5"/>
<text x="98.6" y="91.0" font-size="25.2">EOF1)</text>
<text x="964.3" y="22.7" text-anchor="end" font-size="31.5">24.9%</text>
<clipPath id="m2"><rect shape-rendering="crispEdges" x="210.64" y="641.40" width="88.43" height="44.18"/><rect shape-rendering="crispEdges" x="210.64" y="685.58" width="176.86" height="44.18"/><rect shape-rendering="crispEdges" x="785.44" y="685.58" width="44.22" height="44.18"/><rect shape-rendering="crispEdges" x="785.44" y="729.77" width="132.64" height="44.18"/><rect shape-rendering="crispEdges" x="741.22" y="773.95" width="176.86" height="44.18"/><rect shape-rendering="crispEdges" x="652.79" y="818.13" width="309.50" height="44.18"/><rect shape-rendering="crispEdges" x="652.79" y="862.32" width="309.50" height="44.18"/><rect shape-rendering="crispEdges" x="652.79" y="906.50" width="309.50" height="44.18"/><rect shape-rendering="crispEdges" x="608.58" y="950.68" width="353.72" height="44.18"/><rect shape-rendering="crispEdges" x="608.58" y="994.87" width="353.72" height="44.18"/><rect shape-rendering="crispEdges" x="652.79" y="1039.05" width="309.50" height="44.18"/><rect shape-rendering="crispEdges" x="697.01" y="1083.23" width="265.29" height="44.18"/><rect shape-rendering="crispEdges" x="785.44" y="1127.42" width="176.86" height="44.18"/></clipPath>
<clipPath id="f2"><rect x="78.0" y="641.4" width="884.3" height="530.2"/></clipPath>
<g fill="#93d1f2" shape-rendering="crispEdges"><rect x="785.44" y="685.58" width="44.22" height="44.18"/><rect x="785.44" y="729.77" width="132.64" height="44.18"/><rect x="741.22" y="773.95" width="176.86" height="44.18"/><rect x="652.79" y="818.13" width="309.50" height="44.18"/><rect x="652.79" y="862.32" width="309.50" height="44.18"/><rect x="652.79" y="906.50" width="309.50" height="44.18"/><rect x="608.58" y="950.68" width="353.72" height="44.18"/><rect x="608.58" y="994.87" width="353.72" height="44.18"/><rect x="652.79" y="1039.05" width="309.50" height="44.18"/><rect x="697.01" y="1083.23" width="265.29" height="44.18"/><rect x="785.44" y="1127.42" width="176.86" height="44.18"/></g>
<g fill="#fca832" shape-rendering="crispEdges"><rect x="210.64" y="641.40" width="88.43" height="44.18"/></g>
<g fill="#fca832" shape-rendering="crispEdges"><rect x="210.64" y="685.58" width="176.86" height="44.18"/></g>
<g clip-path="url(#m2)">
<polygon fill="#fdd680" points="220.0,641.4 299.1,641.4 299.1,654.5"/>
<polygon fill="#fdd680" points="370.8,685.6 387.5,685.6 387.5,725.0"/>
<polygon fill="#c1e5f6" points="851.0,906.6 873.9,897.4 918.1,901.0 918.1,910.0 873.9,921.8"/>
<polygon fill="#62a8dc" points="652.8,837.0 666.0,818.2 700.0,790.0 741.2,774.0 785.4,752.5 813.8,728.7 829.7,714.0 887.8,710.0 887.8,800.0 885.9,809.3 870.9,828.0 844.7,841.1 818.5,852.4 799.7,858.0 784.4,862.2 784.4,906.9 800.0,924.0 824.9,949.9 859.7,971.0 912.2,1002.9 962.0,1013.2 975.0,1013.2 975.0,1185.0 830.0,1185.0 830.0,1171.8 785.4,1152.0 749.3,1126.3 741.3,1116.6 696.3,1100.6 660.0,1085.0 640.0,1060.0 600.0,1045.0 600.0,975.0 608.6,971.9 620.5,950.8 640.0,900.0"/>
<polygon fill="#3a78be" points="684.7,818.2 700.0,810.0 741.2,796.5 756.0,798.2 781.0,803.0 809.1,817.7 784.4,826.8 767.0,846.0 750.9,863.4 753.4,884.5 754.6,906.9 777.0,942.0 790.0,958.0 806.0,971.0 835.0,997.0 854.0,1038.5 872.8,1059.0 962.0,1056.0 975.0,1056.0 975.0,1152.0 962.0,1146.2 919.7,1134.0 874.7,1131.2 827.8,1146.2 784.7,1134.0 757.3,1103.8 739.7,1091.0 696.3,1076.5 652.2,1052.5 627.8,1039.2 615.9,995.0 637.1,950.8 652.4,922.4 664.8,902.5 657.4,862.8"/>
<polygon fill="#244c9b" points="696.2,836.1 721.1,862.2 702.1,906.6 727.3,928.0 743.0,940.0 758.0,965.0 775.0,984.1 791.0,1006.8 807.1,1039.2 805.8,1083.4 785.4,1093.5 757.3,1066.9 739.7,1048.5 696.3,1053.3 677.5,1039.2 669.2,1034.0 652.8,1015.0 639.7,995.0 655.7,950.8 694.3,906.6 678.7,861.8"/>
<polygon fill="#244c9b" points="727.3,818.2 741.0,813.7 752.1,818.2 741.0,830.5"/>
<polygon fill="#244c9b" points="944.0,1083.4 975.0,1077.0 975.0,1105.0"/>
<polygon fill="#1d2a60" points="697.0,933.6 719.2,950.8 736.3,995.0 697.0,1022.1 670.3,995.0 680.6,950.8"/>
</g>
<g clip-path="url(#f2)" fill="none" stroke="#222" stroke-width="1.55" stroke-linejoin="round" stroke-linecap="round">
<path d="M80.3,641.4C80.3,641.4 81.9,647.8 83.7,651.3C85.5,654.8 88.4,658.4 90.6,661.6C92.8,664.8 96.0,669.4 96.0,669.4"/>
<path d="M170.0,661.4C170.0,661.4 175.9,662.1 179.8,662.7C183.7,663.3 188.6,663.0 192.4,665.0C196.2,667.0 198.3,672.8 201.5,674.2C204.7,675.6 207.9,673.8 210.7,673.0C213.5,672.2 214.8,669.6 217.6,669.6C220.4,669.6 223.1,671.4 226.7,673.0C230.3,674.6 233.7,677.7 238.1,678.7C242.5,679.7 247.9,680.1 251.9,678.7C255.9,677.3 257.0,672.5 261.0,670.7C265.0,668.9 270.0,668.7 274.8,668.5C279.6,668.3 284.3,669.0 288.5,669.6C292.7,670.2 295.9,672.5 299.0,671.9C302.1,671.3 303.5,667.9 306.0,666.4C308.5,664.9 313.2,663.4 313.2,663.4"/>
<path d="M317.3,654.3C317.3,654.3 320.3,649.8 321.5,647.9C322.7,646.0 323.5,644.8 324.0,643.7C324.5,642.6 324.4,641.4 324.4,641.4"/>
<path d="M78.0,708.5C78.0,708.5 88.9,709.4 91.7,709.6C94.5,709.8 92.0,710.6 94.0,709.6C96.0,708.6 100.0,705.3 103.2,703.9C106.4,702.5 109.3,702.8 112.3,701.6C115.3,700.4 118.1,698.9 120.3,697.1C122.5,695.3 125.0,691.4 125.0,691.4"/>
<path d="M135.0,691.4C135.0,691.4 138.4,694.7 139.8,697.1C141.2,699.5 142.0,701.7 143.2,705.1C144.4,708.5 146.4,713.3 146.6,716.5C146.8,719.7 145.9,720.6 144.3,723.4C142.7,726.2 139.9,729.3 137.5,732.5C135.1,735.7 132.4,738.9 130.6,741.7C128.8,744.5 128.0,743.7 127.2,748.5C126.4,753.3 126.2,763.9 126.0,769.1C125.8,774.3 125.6,774.1 126.0,778.3C126.4,782.5 128.3,793.1 128.3,793.1"/>
<path d="M94.0,709.6C94.0,709.6 91.3,713.7 91.7,716.5C92.1,719.3 94.3,722.5 96.3,725.7C98.3,728.9 101.4,731.2 103.2,734.8C105.0,738.4 105.8,740.2 106.6,746.2C107.4,752.2 107.1,760.3 107.7,769.1C108.3,777.9 110.0,796.6 110.0,796.6"/>
<path d="M79.0,708.9C79.0,708.9 79.3,715.5 80.3,718.8C81.3,722.1 84.0,723.9 84.9,727.9C85.8,731.9 85.2,737.5 85.3,741.4C85.4,745.2 84.7,747.3 85.6,749.9C86.5,752.5 89.8,754.0 90.4,756.4C91.0,758.8 89.4,760.8 89.0,763.4C88.6,766.0 88.1,768.2 88.3,771.4C88.5,774.5 89.5,778.0 90.0,781.4C90.5,784.8 90.5,788.3 91.4,790.9C92.3,793.5 93.7,795.0 95.0,796.4C96.3,797.8 98.6,798.9 98.6,798.9"/>
<path d="M78.0,805.7C78.0,805.7 85.8,805.8 89.4,804.6C93.0,803.4 95.0,800.3 98.6,798.9C102.2,797.5 104.8,797.6 110.0,796.6C115.2,795.6 121.1,793.6 128.3,793.1C135.5,792.6 145.2,793.0 151.2,793.8C157.2,794.6 159.4,795.6 162.6,797.7C165.8,799.8 167.7,803.1 169.5,805.7C171.3,808.3 172.1,810.4 172.9,812.6C173.7,814.8 173.1,815.8 174.1,818.0C175.1,820.2 176.3,822.5 178.7,824.9C181.1,827.3 184.6,831.1 187.8,831.7C191.0,832.3 194.2,829.5 197.0,828.3C199.8,827.1 201.0,825.1 203.8,824.9C206.6,824.7 209.8,827.2 213.0,827.2C216.2,827.2 219.9,825.9 222.1,824.9C224.3,823.9 225.6,821.4 225.6,821.4C225.6,821.4 229.0,822.6 229.0,822.6C229.0,822.6 227.4,822.9 229.0,824.9C230.6,826.9 234.9,832.0 238.1,834.0C241.3,836.0 247.3,836.3 247.3,836.3C247.3,836.3 247.6,838.9 248.4,840.9C249.2,842.9 251.5,844.5 251.9,847.7C252.3,850.9 251.2,855.6 250.7,859.2C250.2,862.8 249.9,865.1 249.1,868.3C248.3,871.5 247.3,874.5 246.2,877.5C245.1,880.5 242.7,885.5 242.7,885.5C242.7,885.5 247.3,891.2 247.3,891.2C247.3,891.2 243.9,896.9 243.9,896.9C243.9,896.9 245.9,901.3 247.3,902.6C248.7,903.9 251.9,904.5 251.9,904.5C251.9,904.5 242.7,903.8 242.7,903.8C242.7,903.8 241.0,907.3 240.4,909.5C239.8,911.7 240.5,914.6 239.3,916.4C238.1,918.2 233.6,919.8 233.6,919.8C233.6,919.8 234.7,924.8 235.9,927.8C237.1,930.8 238.4,933.8 240.4,937.0C242.4,940.2 244.1,942.5 247.3,946.1C250.5,949.7 254.7,953.2 258.7,957.6C262.7,962.0 267.0,967.7 270.2,971.3C273.4,974.9 274.6,975.6 277.0,978.1C279.4,980.6 282.0,983.5 283.7,985.7C285.4,987.9 285.6,988.7 286.8,990.7C288.0,992.7 289.8,995.4 290.6,996.9C291.4,998.4 291.3,997.7 291.5,999.4C291.7,1001.1 291.3,1005.0 291.8,1006.8C292.3,1008.6 293.8,1008.3 294.3,1009.9C294.8,1011.5 294.5,1014.2 294.9,1016.1C295.3,1018.0 295.8,1018.8 296.8,1020.5C297.8,1022.2 299.3,1024.2 300.5,1026.1C301.7,1028.0 302.7,1028.8 303.6,1031.4C304.5,1034.0 304.7,1037.1 305.9,1041.2C307.1,1045.3 309.8,1050.1 310.4,1054.9C311.0,1059.7 308.5,1063.8 309.3,1068.6C310.1,1073.4 313.0,1077.6 315.0,1082.4C317.0,1087.2 319.9,1090.5 320.7,1096.1C321.5,1101.7 321.0,1108.4 319.6,1114.4C318.2,1120.4 315.5,1126.4 312.7,1130.4C309.9,1134.4 306.0,1135.2 303.6,1137.2C301.2,1139.2 300.9,1136.6 299.0,1141.8C297.1,1147.0 294.2,1161.6 293.0,1167.0C291.8,1172.4 292.0,1172.4 292.0,1172.4"/>
<path d="M309.0,657.6C309.0,657.6 314.7,654.6 317.3,654.3C319.9,654.0 322.1,654.6 324.0,655.9C325.9,657.2 327.2,659.7 328.1,661.7C329.0,663.7 328.9,667.5 328.9,667.5C328.9,667.5 347.1,669.2 347.1,669.2C347.1,669.2 346.6,675.4 344.7,677.4C342.8,679.4 339.2,679.3 336.4,680.8C333.6,682.3 328.9,685.7 328.9,685.7C328.9,685.7 325.8,684.1 324.8,682.4C323.8,680.7 324.7,678.0 323.1,675.8C321.5,673.6 317.4,672.2 315.7,670.0C314.0,667.8 314.4,665.6 313.2,663.4C312.0,661.2 309.0,657.6 309.0,657.6"/>
<path d="M328.9,685.7C328.9,685.7 333.4,689.1 334.7,690.7C336.0,692.3 336.4,692.8 336.4,694.8C336.4,696.8 336.7,700.3 334.7,702.3C332.7,704.3 327.5,704.4 324.8,706.4C322.1,708.4 320.5,710.9 319.0,713.9C317.5,716.9 317.7,720.9 316.5,723.8C315.3,726.7 313.8,728.1 312.4,730.4C311.0,732.7 310.0,734.6 308.5,736.9C307.0,739.2 305.3,740.6 303.6,743.4C301.9,746.2 300.5,750.2 299.0,753.1C297.5,756.0 297.1,756.4 295.3,760.0C293.5,763.6 290.7,769.3 288.5,773.7C286.3,778.1 284.8,782.3 282.8,785.1C280.8,787.9 277.0,789.7 277.0,789.7C277.0,789.7 273.0,784.2 270.2,782.8C267.4,781.4 263.8,780.9 261.0,781.7C258.2,782.5 257.0,784.8 254.2,787.4C251.4,790.0 247.8,793.4 245.0,796.6C242.2,799.8 240.1,801.9 238.1,805.7C236.1,809.5 235.5,815.2 233.6,818.1C231.7,821.0 227.0,822.4 227.0,822.4"/>
<path d="M334.5,681.4C334.5,681.4 338.2,689.2 339.7,692.3C341.2,695.4 342.6,696.7 343.0,699.0C343.4,701.3 342.2,702.7 342.2,705.6C342.2,708.5 342.6,712.9 343.0,715.5C343.4,718.1 343.2,718.2 344.7,720.5C346.2,722.8 351.3,728.8 351.3,728.8C351.3,728.8 344.2,729.0 340.0,729.0C335.8,729.0 327.3,728.8 327.3,728.8C327.3,728.8 324.8,733.8 324.8,733.8C324.8,733.8 328.3,736.9 329.8,738.7C331.3,740.5 331.1,741.5 333.3,744.0C335.5,746.5 339.9,749.5 342.5,753.1C345.1,756.7 346.6,760.9 348.2,764.5C349.8,768.1 351.6,773.9 351.6,773.9"/>
<path d="M351.6,773.9C351.6,773.9 347.0,778.2 344.8,780.6C342.6,783.0 341.0,784.6 339.0,787.4C337.0,790.2 334.3,793.4 333.3,796.6C332.3,799.8 332.9,801.9 333.3,805.7C333.7,809.5 334.6,814.7 335.6,818.1C336.6,821.5 337.4,822.1 339.0,824.9C340.6,827.7 342.6,830.4 344.8,834.0C347.0,837.6 349.0,841.9 351.6,845.5C354.2,849.1 357.6,851.4 359.6,854.6C361.6,857.8 363.0,863.8 363.0,863.8"/>
<path d="M351.6,773.9C351.6,773.9 364.2,775.4 367.6,774.8C371.0,774.2 371.0,770.3 371.0,770.3C371.0,770.3 373.4,776.0 373.4,776.0C373.4,776.0 381.4,773.4 386.0,771.4C390.6,769.4 395.7,766.3 399.7,764.5C403.7,762.7 406.4,763.1 408.8,761.1C411.2,759.1 412.6,755.5 413.4,753.1C414.2,750.7 413.4,747.4 413.4,747.4C413.4,747.4 422.3,746.6 427.1,746.2C431.9,745.8 437.0,746.7 440.8,745.1C444.6,743.5 446.9,740.1 448.9,737.1C450.9,734.1 450.5,730.7 452.3,727.9C454.1,725.1 456.7,723.5 459.1,721.1C461.5,718.7 463.2,716.0 466.0,714.2C468.8,712.4 472.2,711.4 475.2,710.8C478.2,710.2 483.2,710.8 483.2,710.8"/>
<path d="M477.5,641.4C477.5,641.4 477.5,645.2 476.3,647.9C475.1,650.6 471.8,653.8 470.6,657.0C469.4,660.2 470.2,662.6 469.4,666.2C468.6,669.8 466.0,677.6 466.0,677.6C466.0,677.6 471.1,679.8 472.9,682.2C474.7,684.6 475.1,687.7 476.3,691.3C477.5,694.9 478.5,699.4 479.7,702.8C480.9,706.2 483.2,710.8 483.2,710.8"/>
<path d="M483.2,710.8C483.2,710.8 486.9,715.8 488.9,718.8C490.9,721.8 493.6,723.9 494.6,727.9C495.6,731.9 494.4,738.1 494.6,741.7C494.8,745.3 493.9,746.7 495.7,748.5C497.5,750.3 502.5,750.4 504.9,752.0C507.3,753.6 506.9,755.9 509.5,757.7C512.1,759.5 517.4,759.9 520.0,762.3C522.6,764.7 522.2,768.6 524.6,771.4C527.0,774.2 530.5,775.5 533.7,778.3C536.9,781.1 540.9,784.6 542.9,787.4C544.9,790.2 543.2,791.5 545.2,794.3C547.2,797.1 551.3,801.4 554.3,803.4C557.3,805.4 562.3,805.7 562.3,805.7C562.3,805.7 563.5,818.9 563.5,818.9"/>
<path d="M406.1,843.6C406.1,843.6 405.6,835.2 406.5,831.7C407.4,828.2 409.1,825.9 411.1,823.7C413.1,821.5 415.2,819.9 418.0,819.1C420.8,818.3 423.5,817.9 427.1,819.1C430.7,820.3 434.6,824.2 438.6,826.0C442.6,827.8 446.4,828.6 450.0,829.4C453.6,830.2 455.5,829.8 459.1,830.6C462.7,831.4 470.6,834.0 470.6,834.0C470.6,834.0 476.5,825.3 479.7,823.7C482.9,822.1 485.3,825.3 488.9,824.9C492.5,824.5 496.7,822.6 500.3,821.4C503.9,820.2 507.1,818.2 509.5,818.0C511.9,817.8 512.2,819.9 514.0,820.3C515.8,820.7 517.9,820.8 520.0,820.3C522.1,819.8 523.2,817.6 526.0,817.4C528.8,817.2 532.1,819.0 536.0,819.4C539.9,819.8 544.5,819.7 548.0,819.9C551.5,820.1 552.9,820.6 556.0,820.7C559.1,820.8 562.5,819.5 565.8,820.7C569.1,821.9 570.9,826.2 574.9,827.6C578.9,829.0 584.2,828.9 588.6,828.7C593.0,828.5 596.8,825.8 600.0,826.4C603.2,827.0 605.0,829.9 607.0,832.1C609.0,834.3 609.1,837.0 611.5,839.0C613.9,841.0 617.5,843.2 620.7,843.6C623.9,844.0 625.8,841.3 629.8,841.3C633.8,841.3 638.7,843.6 643.5,843.6C648.3,843.6 652.5,841.9 657.3,841.3C662.1,840.7 667.0,841.7 671.0,840.1C675.0,838.5 676.9,834.3 680.1,832.1C683.3,829.9 683.7,828.4 689.3,827.6C694.9,826.8 705.0,827.4 712.2,827.6C719.4,827.8 725.5,827.1 730.5,828.7C735.5,830.3 737.2,834.1 741.0,836.7C744.8,839.3 748.4,842.0 752.4,843.6C756.4,845.2 759.5,845.3 763.9,845.9C768.3,846.5 777.6,847.0 777.6,847.0C777.6,847.0 780.6,838.9 782.2,836.7C783.8,834.5 784.0,835.4 786.8,834.4C789.6,833.4 798.2,831.0 798.2,831.0C798.2,831.0 800.8,834.2 802.8,835.6C804.8,837.0 807.2,838.2 809.6,839.0C812.0,839.8 816.5,840.1 816.5,840.1"/>
<path d="M363.0,863.8C363.0,863.8 366.0,856.4 367.6,852.3C369.2,848.2 372.2,840.4 372.2,840.4C372.2,840.4 390.1,841.3 395.1,842.0C400.1,842.7 398.9,844.0 400.8,844.3C402.7,844.6 406.1,843.6 406.1,843.6"/>
<path d="M406.1,843.6C406.1,843.6 407.6,846.5 406.5,850.0C405.4,853.5 401.7,858.2 399.7,863.8C397.7,869.4 396.7,876.5 395.1,882.1C393.5,887.7 391.5,889.6 390.5,895.8C389.5,902.0 391.8,911.5 389.4,917.5C387.0,923.5 381.0,925.1 376.8,930.1C372.6,935.1 367.9,942.1 365.3,946.1C362.7,950.1 362.3,949.0 361.9,953.0C361.5,957.0 364.0,964.6 363.0,969.0C362.0,973.4 359.0,975.3 356.2,978.1C353.4,980.9 349.8,982.4 347.0,985.0C344.2,987.6 341.7,991.3 340.0,993.1C338.3,994.8 338.2,994.7 337.1,995.0C336.1,995.3 334.0,995.0 334.0,995.0C334.0,995.0 333.6,988.8 332.8,986.9C332.0,985.0 331.3,984.5 329.7,984.4C328.1,984.3 325.2,985.4 323.5,986.3C321.8,987.2 321.1,988.2 319.8,989.4C318.5,990.6 316.0,993.1 316.0,993.1C316.0,993.1 308.6,989.4 308.6,989.4"/>
<path d="M363.0,863.8C363.0,863.8 361.9,875.2 361.9,875.2C361.9,875.2 358.9,874.1 353.9,872.9C348.9,871.7 340.5,868.9 333.3,868.3C326.1,867.7 317.1,869.9 312.7,869.5C308.3,869.1 310.6,866.5 308.2,866.0C305.8,865.5 304.1,866.2 299.0,866.5C293.9,866.8 279.3,867.6 279.3,867.6"/>
<path d="M248.6,869.3C248.6,869.3 278.9,868.9 278.9,868.9C278.9,868.9 278.4,891.0 278.4,891.0C278.4,891.0 246.3,891.8 246.3,891.8"/>
<path d="M311.6,869.5C311.6,869.5 310.4,884.3 310.4,884.3C310.4,884.3 315.6,883.2 319.6,883.2C323.6,883.2 333.3,884.4 333.3,884.4C333.3,884.4 334.1,888.4 333.3,891.2C332.5,894.0 330.1,897.2 328.7,900.4C327.3,903.6 325.7,907.1 325.3,909.5C324.9,911.9 324.9,912.9 326.5,914.1C328.1,915.3 334.5,916.4 334.5,916.4C334.5,916.4 334.9,927.6 334.5,932.4C334.1,937.2 333.4,940.6 332.2,943.8C331.0,947.0 327.6,950.7 327.6,950.7C327.6,950.7 324.9,948.6 321.9,948.4C318.9,948.2 313.6,950.4 310.4,949.6C307.2,948.8 305.6,945.2 303.6,943.8C301.6,942.4 302.0,940.7 299.0,941.5C296.0,942.3 288.8,946.4 286.2,948.4C283.6,950.4 283.9,951.0 283.9,953.0C283.9,955.0 285.2,957.4 286.2,959.8C287.2,962.2 289.2,964.3 289.6,966.7C290.0,969.1 288.5,973.6 288.5,973.6C288.5,973.6 281.7,975.3 279.3,975.9C276.9,976.5 274.8,977.0 274.8,977.0"/>
<path d="M290.6,996.2C290.6,996.2 291.9,994.0 293.0,993.1C294.1,992.2 295.8,991.9 296.8,991.3C297.8,990.7 297.5,990.3 298.6,989.4C299.7,988.5 301.8,986.7 303.0,986.3C304.2,985.9 304.5,986.4 305.5,986.9C306.5,987.4 308.6,989.4 308.6,989.4"/>
<path d="M308.6,989.4C308.6,989.4 306.2,991.8 304.8,993.1C303.4,994.4 301.4,995.5 300.5,996.9C299.6,998.3 299.9,999.1 299.9,1001.2C299.9,1003.3 300.5,1008.7 300.5,1008.7C300.5,1008.7 299.7,1009.4 298.6,1009.6C297.5,1009.8 294.3,1009.9 294.3,1009.9"/>
<path d="M294.9,1016.1C294.9,1016.1 297.6,1015.9 299.9,1015.5C302.2,1015.1 305.6,1014.4 308.0,1013.6C310.4,1012.8 311.9,1012.3 313.5,1011.2C315.1,1010.1 317.3,1007.4 317.3,1007.4C317.3,1007.4 318.2,1009.7 319.8,1010.5C321.4,1011.3 322.2,1011.6 326.6,1011.8C331.0,1012.0 337.2,1011.5 344.8,1011.4C352.4,1011.3 369.9,1011.4 369.9,1011.4C369.9,1011.4 371.4,1017.0 372.2,1020.6C373.0,1024.2 372.1,1027.2 374.5,1032.0C376.9,1036.8 381.1,1045.0 385.9,1048.0C390.7,1051.0 396.2,1049.0 402.0,1049.2C407.8,1049.4 419.1,1049.2 419.1,1049.2C419.1,1049.2 422.9,1041.7 423.7,1038.9C424.5,1036.1 423.7,1033.1 423.7,1033.1C423.7,1033.1 433.5,1032.4 436.3,1032.0C439.1,1031.6 439.7,1030.9 439.7,1030.9C439.7,1030.9 440.8,1036.6 440.8,1036.6C440.8,1036.6 461.4,1037.7 461.4,1037.7C461.4,1037.7 462.4,1037.4 462.6,1041.2C462.8,1045.0 462.4,1053.5 462.6,1059.5C462.8,1065.5 462.5,1070.7 463.7,1075.5C464.9,1080.3 468.0,1082.3 469.4,1086.9C470.8,1091.5 471.7,1101.8 471.7,1101.8C471.7,1101.8 477.0,1102.8 482.0,1102.9C487.0,1103.0 495.5,1102.1 500.3,1102.5C505.1,1102.9 507.1,1105.1 509.5,1105.2C511.9,1105.3 512.2,1103.4 514.0,1102.9C515.8,1102.4 518.1,1102.5 520.0,1102.5C521.9,1102.5 524.6,1102.9 524.6,1102.9C524.6,1102.9 524.1,1107.0 525.7,1108.6C527.3,1110.2 529.5,1110.9 533.7,1112.1C537.9,1113.3 549.7,1115.5 549.7,1115.5C549.7,1115.5 554.3,1109.8 554.3,1109.8C554.3,1109.8 556.9,1112.2 558.9,1114.4C560.9,1116.6 563.0,1120.6 565.8,1122.4C568.6,1124.2 571.7,1123.1 574.9,1124.7C578.1,1126.3 581.3,1129.1 584.1,1131.5C586.9,1133.9 588.5,1136.8 590.9,1138.4C593.3,1140.0 595.6,1140.5 597.8,1140.7C600.0,1140.9 603.5,1139.5 603.5,1139.5C603.5,1139.5 603.5,1122.4 603.5,1122.4C603.5,1122.4 603.4,1120.8 601.2,1121.2C599.0,1121.6 593.9,1124.7 590.9,1124.7C587.9,1124.7 586.1,1123.0 584.1,1121.2C582.1,1119.4 580.1,1117.6 579.5,1114.4C578.9,1111.2 580.0,1107.7 580.6,1102.9C581.2,1098.1 582.5,1092.5 582.9,1086.9C583.3,1081.3 582.1,1074.9 582.9,1070.9C583.7,1066.9 586.5,1066.4 587.5,1064.0C588.5,1061.6 588.6,1057.2 588.6,1057.2C588.6,1057.2 602.2,1054.7 607.0,1053.7C611.8,1052.7 616.1,1051.4 616.1,1051.4"/>
<path d="M501.5,1102.7C501.5,1102.7 501.7,1113.7 501.5,1118.9C501.3,1124.2 500.3,1132.7 500.3,1132.7C500.3,1132.7 466.0,1135.0 466.0,1135.0C466.0,1135.0 466.0,1172.4 466.0,1172.4"/>
<path d="M722.5,641.4C722.5,641.4 723.6,649.1 723.4,652.6C723.2,656.1 722.3,656.8 721.3,661.4C720.3,666.0 719.9,675.2 717.5,678.9C715.1,682.6 710.1,680.2 707.6,682.4C705.1,684.6 704.2,688.8 703.0,691.3C701.8,693.8 701.9,694.9 700.7,696.4C699.5,697.9 697.0,697.5 696.2,699.9C695.4,702.3 697.4,707.4 696.2,709.9C695.0,712.4 691.3,713.1 689.3,714.2C687.3,715.3 685.9,714.0 684.7,716.4C683.5,718.8 683.2,723.9 682.4,727.9C681.6,731.9 680.9,734.8 680.1,739.4C679.3,744.0 677.9,754.4 677.9,754.4C677.9,754.4 669.0,756.4 666.4,757.4C663.8,758.4 663.8,758.2 663.0,760.0C662.2,761.8 661.6,765.5 661.8,767.4C662.0,769.3 661.7,769.5 664.1,770.7C666.5,771.9 672.8,772.4 675.6,774.4C678.4,776.4 677.7,779.4 680.1,782.4C682.5,785.4 686.9,788.9 689.3,791.4C691.7,793.9 692.3,793.8 693.9,796.6C695.5,799.4 696.5,804.6 698.5,807.4C700.5,810.2 702.9,811.0 705.3,812.4C707.7,813.8 712.2,815.4 712.2,815.4C712.2,815.4 712.2,827.6 712.2,827.6"/>
<path d="M723.4,652.6C723.4,652.6 728.5,652.6 730.5,652.4C732.5,652.2 733.2,650.4 735.0,651.3C736.8,652.2 741.0,657.4 741.0,657.4C741.0,657.4 744.2,648.2 745.6,646.0C747.0,643.8 747.4,644.3 749.0,644.9C750.6,645.5 752.1,648.4 754.7,649.4C757.3,650.4 761.1,650.8 763.9,650.6C766.7,650.4 768.3,648.3 770.7,648.3C773.1,648.3 774.8,650.0 777.6,650.6C780.4,651.2 783.6,650.5 786.8,651.7C790.0,652.9 793.1,655.2 795.9,657.4C798.7,659.6 800.4,661.9 802.8,664.3C805.2,666.7 807.2,669.1 809.6,671.1C812.0,673.1 814.1,673.7 816.5,675.7C818.9,677.7 821.4,680.8 823.4,682.6C825.4,684.4 828.0,686.0 828.0,686.0"/>
<path d="M793.6,641.4C793.6,641.4 800.0,645.9 802.8,648.3C805.6,650.7 806.8,652.3 809.6,655.1C812.4,657.9 815.6,661.1 818.8,664.3C822.0,667.5 824.8,670.4 828.0,673.4C831.2,676.4 834.7,679.0 837.1,681.4C839.5,683.8 840.7,685.0 841.7,687.2C842.7,689.4 842.8,694.0 842.8,694.0C842.8,694.0 836.6,697.0 834.8,698.6C833.0,700.2 832.5,703.2 832.5,703.2C832.5,703.2 836.6,700.8 839.4,702.0C842.2,703.2 845.7,707.0 848.5,710.0C851.3,713.0 852.6,717.0 855.4,719.2C858.2,721.4 860.5,722.8 864.5,722.6C868.5,722.4 873.9,719.2 878.3,718.0C882.7,716.8 885.7,716.4 889.7,715.8C893.7,715.2 897.1,715.4 901.1,714.6C905.1,713.8 908.6,712.2 912.6,711.2C916.6,710.2 919.6,709.7 924.0,708.9C928.4,708.1 932.9,707.4 937.7,706.6C942.5,705.8 947.2,704.9 951.5,704.3C955.8,703.7 962.3,703.2 962.3,703.2"/>
<path d="M828.0,686.0 L836.0,682.4"/>
<path d="M828.0,686.0C828.0,686.0 822.1,693.5 819.9,696.3C817.7,699.1 816.0,699.2 815.4,702.0C814.8,704.8 816.5,712.3 816.5,712.3C816.5,712.3 820.4,711.9 823.4,712.3C826.4,712.7 833.7,714.6 833.7,714.6C833.7,714.6 835.8,711.6 837.1,710.0C838.4,708.4 841.0,705.4 841.0,705.4"/>
<path d="M833.7,714.6C833.7,714.6 831.9,716.8 832.5,719.2C833.1,721.6 835.1,725.5 837.1,728.3C839.1,731.1 841.2,732.4 844.0,735.2C846.8,738.0 849.5,741.8 853.1,744.4C856.7,747.0 860.1,748.3 864.5,750.1C868.9,751.9 873.5,753.2 878.3,754.6C883.1,756.0 887.2,756.7 892.0,758.1C896.8,759.5 902.1,761.3 905.7,762.7C909.3,764.1 909.2,765.5 912.6,766.1C916.0,766.7 925.2,766.1 925.2,766.1C925.2,766.1 919.1,774.1 914.9,778.7C910.7,783.3 905.9,787.6 901.1,792.4C896.3,797.2 892.7,801.5 887.4,806.1C882.1,810.6 877.8,815.8 871.0,818.4C864.2,821.0 854.4,819.1 848.5,820.7C842.6,822.3 840.7,825.6 837.1,827.6C833.5,829.6 831.2,830.9 828.0,832.1C824.8,833.3 820.8,833.0 818.8,834.4C816.8,835.8 816.5,840.1 816.5,840.1"/>
<path d="M834.8,641.4C834.8,641.4 836.3,648.8 837.1,652.8C837.9,656.8 838.4,660.3 839.4,664.3C840.4,668.3 841.2,672.5 842.8,675.7C844.4,678.9 845.5,681.4 848.5,682.6C851.5,683.8 855.6,683.2 860.0,682.6C864.4,682.0 869.3,681.1 873.7,679.1C878.1,677.1 880.2,672.7 885.0,671.1C889.8,669.5 895.9,671.0 901.1,670.0C906.3,669.0 910.9,667.0 914.9,665.4C918.9,663.8 920.0,661.8 924.0,660.8C928.0,659.8 933.7,661.5 937.7,659.7C941.7,657.9 943.3,653.0 946.9,650.6C950.5,648.2 955.6,647.0 958.3,646.0C961.0,645.0 962.3,644.8 962.3,644.8"/>
<path d="M962.3,760.4C962.3,760.4 958.3,769.3 956.0,774.1C953.7,778.9 951.6,782.6 949.2,787.8C946.8,793.0 945.1,798.4 942.3,803.8C939.5,809.2 935.8,814.2 933.0,818.4C930.2,822.6 929.1,824.0 926.3,827.6C923.5,831.2 921.6,834.2 917.2,839.0C912.8,843.8 905.1,850.8 901.1,855.0C897.1,859.2 898.7,859.8 894.3,863.0C889.9,866.2 881.2,869.9 876.0,873.3C870.8,876.7 869.3,878.4 864.5,882.4C859.7,886.4 853.3,891.8 848.5,896.2C843.7,900.6 840.1,905.0 837.1,907.6C834.1,910.2 833.8,908.7 831.4,911.1C829.0,913.5 826.8,917.0 823.4,921.4C820.0,925.8 815.5,932.4 811.9,936.2C808.3,940.0 806.0,940.1 802.8,943.1C799.6,946.1 796.0,950.0 793.6,953.4C791.2,956.8 791.0,958.1 789.0,962.5C787.0,966.9 785.0,973.7 782.2,978.5C779.4,983.3 774.8,987.0 773.0,990.0C771.2,993.0 772.7,992.8 771.9,995.4C771.1,998.0 769.7,1001.2 768.5,1004.6C767.3,1008.0 765.0,1012.0 765.0,1014.8C765.0,1017.6 766.7,1018.4 768.5,1020.6C770.3,1022.8 773.7,1025.2 775.3,1027.4C776.9,1029.6 777.6,1030.7 777.6,1033.1C777.6,1035.5 776.1,1037.8 775.3,1041.2C774.5,1044.6 772.8,1048.6 773.0,1052.6C773.2,1056.6 775.3,1060.4 776.5,1064.0C777.7,1067.6 778.7,1069.6 779.9,1073.2C781.1,1076.8 781.3,1081.6 783.3,1084.6C785.3,1087.6 789.1,1088.5 791.3,1090.3C793.5,1092.1 795.9,1094.9 795.9,1094.9C795.9,1094.9 793.5,1101.8 792.5,1105.2C791.5,1108.6 790.4,1109.6 790.2,1114.4C790.0,1119.2 790.9,1126.3 791.3,1132.7C791.7,1139.1 791.7,1145.4 792.5,1151.0C793.3,1156.6 795.5,1161.0 795.9,1164.7C796.3,1168.4 794.8,1172.4 794.8,1172.4"/>
<path d="M816.5,840.1C816.5,840.1 807.4,848.5 805.0,852.7C802.6,856.9 803.3,858.2 802.8,864.2C802.3,870.2 802.4,877.4 802.3,887.0C802.2,896.6 801.4,911.5 802.3,919.1C803.2,926.7 805.6,927.5 807.3,930.5C809.0,933.5 811.9,936.2 811.9,936.2"/>
<path d="M681.0,923.4C681.0,923.4 695.1,930.7 703.0,935.1C710.9,939.5 719.2,944.8 725.9,948.8C732.5,952.8 737.6,955.6 741.0,958.0C744.4,960.4 744.8,960.5 745.6,962.5C746.4,964.5 744.0,966.6 745.6,969.4C747.2,972.2 749.9,974.9 754.7,978.5C759.5,982.1 773.0,990.0 773.0,990.0"/>
<path d="M680.1,832.1C680.1,832.1 682.3,841.1 684.7,845.9C687.1,850.7 691.9,854.4 693.9,859.6C695.9,864.8 697.0,870.4 696.2,875.6C695.4,880.8 692.1,884.5 689.3,889.3C686.5,894.1 680.1,903.0 680.1,903.0"/>
<path d="M712.2,829.8C712.2,829.8 712.9,843.3 714.5,848.1C716.1,852.9 719.3,854.5 721.3,857.3C723.3,860.1 725.9,864.2 725.9,864.2C725.9,864.2 725.2,863.4 724.0,859.4C722.8,855.4 720.3,846.5 719.0,841.3C717.7,836.1 716.8,829.8 716.8,829.8C716.8,829.8 712.2,829.8 712.2,829.8"/>
<path d="M639.6,923.4C639.7,920.1 639.2,918.3 639.6,915.9C640.0,913.5 641.1,911.1 642.0,909.7C642.9,908.3 642.3,908.9 644.5,907.8C646.7,906.7 651.5,904.0 654.5,903.5C657.5,903.0 659.7,905.1 661.9,904.7C664.1,904.3 664.1,901.4 666.9,901.0C669.7,900.6 678.1,902.4 678.1,902.4C678.1,902.4 678.9,908.2 680.1,909.9C681.3,911.6 682.5,912.0 684.7,912.2C686.9,912.4 692.7,911.1 692.7,911.1C692.7,911.1 684.6,916.1 682.4,919.1C680.2,922.1 681.7,924.6 680.1,928.2C678.5,931.8 675.3,936.5 673.3,939.7C671.3,942.9 670.5,944.8 668.7,946.5C666.9,948.2 664.8,947.6 663.2,949.4C661.6,951.2 659.4,956.9 659.4,956.9C659.4,956.9 657.2,953.4 655.7,951.9C654.2,950.4 652.2,949.1 650.7,948.2C649.2,947.3 647.0,947.0 647.0,947.0C647.0,947.0 642.0,954.4 642.0,954.4C642.0,954.4 640.1,950.5 639.6,947.0C639.1,943.5 638.9,938.6 638.9,934.5C638.9,930.4 639.5,926.7 639.6,923.4"/>
<path d="M620.7,843.6C620.7,843.6 620.7,856.4 620.9,860.0C621.1,863.6 621.6,864.4 621.6,864.4C621.6,864.4 630.9,866.8 630.9,866.8"/>
<path d="M630.9,866.8C630.9,866.8 633.0,867.3 633.4,868.7C633.8,870.1 634.3,872.9 633.4,874.9C632.5,876.9 630.6,877.7 628.4,879.9C626.2,882.1 622.8,885.9 620.9,887.3C619.0,888.7 617.8,887.9 617.8,887.9C617.8,887.9 615.8,885.7 616.6,883.6C617.4,881.5 619.9,878.6 622.2,876.1C624.5,873.6 628.1,870.9 629.6,869.3C631.1,867.7 630.9,866.8 630.9,866.8"/>
<path d="M617.2,885.4C617.2,885.4 612.9,888.4 611.0,889.8C609.1,891.2 607.7,891.5 606.6,893.5C605.5,895.5 605.4,897.7 604.8,901.0C604.2,904.3 603.4,908.1 602.9,912.2C602.4,916.3 602.1,921.0 601.7,924.6C601.3,928.2 600.4,932.7 600.4,932.7"/>
<path d="M600.4,932.7C600.4,932.7 596.2,934.0 594.8,935.8C593.4,937.6 593.6,940.1 592.4,943.2C591.2,946.4 588.1,951.0 588.0,953.8C587.9,956.6 590.3,957.3 591.7,959.4C593.1,961.5 596.1,965.6 596.1,965.6"/>
<path d="M600.4,932.7C600.4,932.7 605.2,934.4 607.3,933.9C609.4,933.4 610.6,930.7 612.2,929.6C613.8,928.5 614.2,928.5 616.6,927.7C619.0,926.9 621.9,926.0 625.9,925.2C629.9,924.4 639.6,923.4 639.6,923.4"/>
<path d="M616.6,927.7C616.6,927.7 618.7,932.2 619.7,934.5C620.7,936.8 621.6,938.1 622.2,940.7C622.8,943.3 623.4,949.4 623.4,949.4C623.4,949.4 620.0,950.4 617.2,950.7C614.4,951.0 607.3,951.3 607.3,951.3C607.3,951.3 606.7,956.5 606.0,958.1C605.3,959.7 604.8,960.4 603.5,960.6C602.2,960.8 600.1,959.8 598.6,959.4C597.1,959.0 594.8,958.1 594.8,958.1"/>
<path d="M617.2,950.7C617.2,950.7 614.7,958.1 614.7,958.1C614.7,958.1 622.2,963.1 622.2,963.1C622.2,963.1 622.2,967.1 620.9,969.3C619.6,971.5 616.9,972.9 614.7,975.5C612.5,978.1 610.5,982.0 608.5,984.2C606.5,986.4 603.5,987.9 603.5,987.9"/>
<path d="M596.1,965.6C596.1,965.6 594.1,971.2 593.6,975.5C593.1,979.8 593.1,986.9 593.0,990.4C592.9,993.9 592.8,992.9 593.2,995.4C593.6,997.9 594.5,1000.6 595.5,1004.6C596.5,1008.6 597.3,1013.9 598.9,1018.3C600.5,1022.7 602.2,1026.3 604.6,1029.7C607.0,1033.1 610.7,1034.9 612.7,1037.7C614.7,1040.5 615.1,1042.7 616.1,1045.7C617.1,1048.7 616.8,1052.1 618.4,1054.9C620.0,1057.7 625.2,1061.7 625.2,1061.7C625.2,1061.7 627.9,1060.7 627.5,1058.3C627.1,1055.9 624.4,1051.8 623.0,1048.0C621.6,1044.2 620.3,1039.8 619.5,1036.6C618.7,1033.4 619.8,1032.1 618.4,1029.7C617.0,1027.3 613.5,1024.9 611.5,1022.9C609.5,1020.9 607.9,1020.3 606.9,1018.3C605.9,1016.3 605.8,1013.8 605.8,1011.4C605.8,1009.0 607.1,1007.4 606.9,1004.6C606.7,1001.8 605.3,998.3 604.6,995.4C603.9,992.5 603.7,991.2 602.9,987.9C602.1,984.6 600.9,980.5 599.8,976.8C598.7,973.1 596.7,966.8 596.7,966.8"/>
<path d="M627.5,1058.3C627.5,1058.3 633.7,1062.0 636.7,1064.0C639.7,1066.0 641.1,1068.2 644.7,1069.8C648.3,1071.4 653.9,1072.2 657.3,1073.2C660.7,1074.2 660.5,1074.9 664.1,1075.5C667.7,1076.1 677.9,1076.6 677.9,1076.6"/>
<path d="M664.1,1075.5C664.1,1075.5 667.1,1081.0 668.7,1084.6C670.3,1088.2 673.3,1096.1 673.3,1096.1C673.3,1096.1 669.0,1099.7 667.6,1102.9C666.2,1106.1 665.9,1110.4 665.3,1114.4C664.7,1118.4 665.1,1122.6 664.1,1125.8C663.1,1129.0 660.8,1129.5 659.6,1132.7C658.4,1135.9 656.7,1140.5 657.3,1144.1C657.9,1147.7 660.8,1150.5 663.0,1153.3C665.2,1156.1 666.5,1158.7 669.9,1160.1C673.3,1161.5 679.0,1160.5 682.4,1161.3C685.8,1162.1 687.9,1162.8 689.3,1164.7C690.7,1166.6 690.4,1172.4 690.4,1172.4"/>
<path d="M659.6,1153.3C659.6,1153.3 647.4,1155.7 639.0,1159.0C630.6,1162.3 611.5,1172.2 611.5,1172.2"/>
<path d="M677.9,1076.6C677.9,1076.6 680.8,1075.6 682.4,1076.6C684.0,1077.6 685.6,1079.0 687.0,1082.4C688.4,1085.8 689.4,1091.3 690.4,1096.1C691.4,1100.9 692.5,1105.0 692.7,1109.8C692.9,1114.6 691.4,1118.7 691.6,1123.5C691.8,1128.3 692.9,1132.4 693.9,1137.2C694.9,1142.0 696.3,1147.0 697.3,1151.0C698.3,1155.0 699.6,1160.1 699.6,1160.1C699.6,1160.1 695.7,1160.9 693.9,1160.1C692.1,1159.3 690.5,1158.7 689.3,1155.5C688.1,1152.3 688.0,1146.6 687.0,1141.8C686.0,1137.0 684.6,1133.7 683.6,1128.1C682.6,1122.5 681.9,1115.8 681.3,1109.8C680.7,1103.8 680.7,1098.6 680.1,1093.8C679.5,1089.0 678.3,1085.3 677.9,1082.3C677.5,1079.3 677.9,1076.6 677.9,1076.6"/>
<path d="M692.7,1109.8C692.7,1109.8 693.6,1110.2 696.2,1109.8C698.8,1109.4 704.0,1107.3 707.6,1107.5C711.2,1107.7 713.6,1110.1 716.8,1110.9C720.0,1111.7 721.7,1112.3 725.9,1112.1C730.1,1111.9 736.7,1111.4 741.0,1109.8C745.3,1108.2 750.2,1102.9 750.2,1102.9C750.2,1102.9 757.0,1106.4 757.0,1106.4C757.0,1106.4 760.3,1102.6 763.9,1101.8C767.5,1101.0 773.6,1102.2 777.6,1101.8C781.6,1101.4 783.6,1100.7 786.8,1099.5C790.0,1098.3 795.9,1094.9 795.9,1094.9"/>
<path d="M694.0,1146.4C694.0,1146.4 700.2,1152.3 703.0,1155.5C705.8,1158.7 708.3,1161.7 709.9,1164.7C711.5,1167.7 712.2,1172.4 712.2,1172.4"/>
<path d="M913.7,1172.4C913.7,1172.4 915.8,1166.9 917.2,1164.7C918.6,1162.5 920.5,1162.1 921.7,1160.1C922.9,1158.1 923.2,1155.5 924.0,1153.3C924.8,1151.1 924.7,1149.5 926.3,1147.5C927.9,1145.5 931.2,1144.0 933.2,1141.8C935.2,1139.6 936.5,1137.8 937.7,1135.0C938.9,1132.2 938.8,1128.0 940.0,1125.8C941.2,1123.6 944.6,1122.4 944.6,1122.4C944.6,1122.4 947.2,1122.9 949.2,1124.7C951.2,1126.5 954.2,1129.3 956.0,1132.7C957.8,1136.1 958.4,1140.9 959.5,1144.1C960.6,1147.3 962.3,1151.0 962.3,1151.0"/>
<ellipse cx="230.9" cy="844.2" rx="3.6" ry="5.4" transform="rotate(25 230.9 844.2)"/>
<ellipse cx="207" cy="877.4" rx="1.9" ry="2.4" transform="rotate(20 207 877.4)" fill="#000"/>
<ellipse cx="194.4" cy="901.8" rx="2.6" ry="3.4" transform="rotate(30 194.4 901.8)"/>
<ellipse cx="177.7" cy="932.0" rx="1.5" ry="1.5" transform="rotate(0 177.7 932.0)" fill="#000"/>
<ellipse cx="775.3" cy="1014.0" rx="1.6" ry="5.2" transform="rotate(10 775.3 1014.0)"/>
<ellipse cx="781.2" cy="998.9" rx="1.5" ry="3.3" transform="rotate(10 781.2 998.9)"/>
<ellipse cx="844.4" cy="1112.4" rx="1.8" ry="4.6" transform="rotate(0 844.4 1112.4)"/>
<ellipse cx="851.5" cy="1124.8" rx="2.6" ry="1.1" transform="rotate(0 851.5 1124.8)" fill="#000"/>
<ellipse cx="862" cy="1124.6" rx="1.8" ry="2.2" transform="rotate(0 862 1124.6)"/>
<ellipse cx="870" cy="1134.4" rx="1.5" ry="2.0" transform="rotate(0 870 1134.4)"/>
<ellipse cx="898.8" cy="1073.6" rx="2.6" ry="1.2" transform="rotate(0 898.8 1073.6)" fill="#000"/>
<ellipse cx="832.5" cy="661.9" rx="0.9" ry="0.9" transform="rotate(0 832.5 661.9)" fill="#000"/>
<ellipse cx="833.5" cy="665.4" rx="0.9" ry="0.9" transform="rotate(0 833.5 665.4)" fill="#000"/>
<polyline points="78.6,753.4 81.0,754.4 83.0,756.4 84.5,758.9 82.0,760.4 84.5,762.4 82.5,765.4 80.5,767.4 82.0,770.4 83.5,775.4 82.0,778.4 83.5,781.4 83.5,787.4 82.0,789.4 83.5,790.4 81.0,793.4 79.0,795.4 78.6,795.4"/>
</g>
<g font-size="24.5" fill="#000"><text transform="translate(898.8,817.7) rotate(-90)">-.08</text><text transform="translate(669,950.6) rotate(-50)">-.12</text></g>
<rect x="78.0" y="641.4" width="884.3" height="530.2" fill="none" stroke="#000" stroke-width="2"/>
<line x1="69.0" y1="1153.9" x2="78.0" y2="1153.9" stroke="#000" stroke-width="1.6"/>
<line x1="69.0" y1="1118.6" x2="78.0" y2="1118.6" stroke="#000" stroke-width="1.6"/>
<line x1="60.0" y1="1083.2" x2="78.0" y2="1083.2" stroke="#000" stroke-width="1.6"/>
<line x1="69.0" y1="1047.9" x2="78.0" y2="1047.9" stroke="#000" stroke-width="1.6"/>
<line x1="69.0" y1="1012.5" x2="78.0" y2="1012.5" stroke="#000" stroke-width="1.6"/>
<line x1="69.0" y1="977.2" x2="78.0" y2="977.2" stroke="#000" stroke-width="1.6"/>
<line x1="69.0" y1="941.8" x2="78.0" y2="941.8" stroke="#000" stroke-width="1.6"/>
<line x1="60.0" y1="906.5" x2="78.0" y2="906.5" stroke="#000" stroke-width="1.6"/>
<line x1="69.0" y1="871.2" x2="78.0" y2="871.2" stroke="#000" stroke-width="1.6"/>
<line x1="69.0" y1="835.8" x2="78.0" y2="835.8" stroke="#000" stroke-width="1.6"/>
<line x1="69.0" y1="800.5" x2="78.0" y2="800.5" stroke="#000" stroke-width="1.6"/>
<line x1="69.0" y1="765.1" x2="78.0" y2="765.1" stroke="#000" stroke-width="1.6"/>
<line x1="60.0" y1="729.8" x2="78.0" y2="729.8" stroke="#000" stroke-width="1.6"/>
<line x1="69.0" y1="694.4" x2="78.0" y2="694.4" stroke="#000" stroke-width="1.6"/>
<line x1="69.0" y1="659.1" x2="78.0" y2="659.1" stroke="#000" stroke-width="1.6"/>
<text x="45" y="738.4" text-anchor="end" font-size="24.5">10N</text>
<text x="45" y="915.1" text-anchor="end" font-size="24.5">0</text>
<text x="45" y="1091.8" text-anchor="end" font-size="24.5">10S</text>
<rect x="91.4" y="654.9" width="88.3" height="41.6" fill="#fff" stroke="#000" stroke-width="1.5"/>
<text x="98.6" y="682.4" font-size="25.2">EOF2)</text>
<text x="964.3" y="614.1" text-anchor="end" font-size="31.5">13.1%</text>
<polygon points="67.9,1202.4 67.9,1239.6 8.3,1221.0" fill="#1d2a60" stroke="#000" stroke-width="1.5"/>
<polygon points="897.1,1202.4 897.1,1239.6 956.5,1221.0" fill="#8c1519" stroke="#000" stroke-width="1.5"/>
<rect x="67.90" y="1202.4" width="59.23" height="37.19999999999982" fill="#244c9b" stroke="#000" stroke-width="1.5"/>
<rect x="127.13" y="1202.4" width="59.23" height="37.19999999999982" fill="#3a78be" stroke="#000" stroke-width="1.5"/>
<rect x="186.36" y="1202.4" width="59.23" height="37.19999999999982" fill="#62a8dc" stroke="#000" stroke-width="1.5"/>
<rect x="245.59" y="1202.4" width="59.23" height="37.19999999999982" fill="#93d1f2" stroke="#000" stroke-width="1.5"/>
<rect x="304.81" y="1202.4" width="59.23" height="37.19999999999982" fill="#c1e5f6" stroke="#000" stroke-width="1.5"/>
<rect x="364.04" y="1202.4" width="59.23" height="37.19999999999982" fill="#e4f3fb" stroke="#000" stroke-width="1.5"/>
<rect x="423.27" y="1202.4" width="59.23" height="37.19999999999982" fill="#ffffff" stroke="#000" stroke-width="1.5"/>
<rect x="482.50" y="1202.4" width="59.23" height="37.19999999999982" fill="#ffffff" stroke="#000" stroke-width="1.5"/>
<rect x="541.73" y="1202.4" width="59.23" height="37.19999999999982" fill="#fef2c9" stroke="#000" stroke-width="1.5"/>
<rect x="600.96" y="1202.4" width="59.23" height="37.19999999999982" fill="#fdd680" stroke="#000" stroke-width="1.5"/>
<rect x="660.19" y="1202.4" width="59.23" height="37.19999999999982" fill="#fca832" stroke="#000" stroke-width="1.5"/>
<rect x="719.41" y="1202.4" width="59.23" height="37.19999999999982" fill="#f7802e" stroke="#000" stroke-width="1.5"/>
<rect x="778.64" y="1202.4" width="59.23" height="37.19999999999982" fill="#e4472a" stroke="#000" stroke-width="1.5"/>
<rect x="837.87" y="1202.4" width="59.23" height="37.19999999999982" fill="#c31d24" stroke="#000" stroke-width="1.5"/>
<text x="127.1" y="1269.2" text-anchor="middle" font-size="25.5">-0.12</text>
<text x="245.6" y="1269.2" text-anchor="middle" font-size="25.5">-0.08</text>
<text x="364.0" y="1269.2" text-anchor="middle" font-size="25.5">-0.04</text>
<text x="482.5" y="1269.2" text-anchor="middle" font-size="25.5">0</text>
<text x="601.0" y="1269.2" text-anchor="middle" font-size="25.5">0.04</text>
<text x="719.4" y="1269.2" text-anchor="middle" font-size="25.5">0.08</text>
<text x="837.9" y="1269.2" text-anchor="middle" font-size="25.5">0.12</text>
</svg></body></html>
